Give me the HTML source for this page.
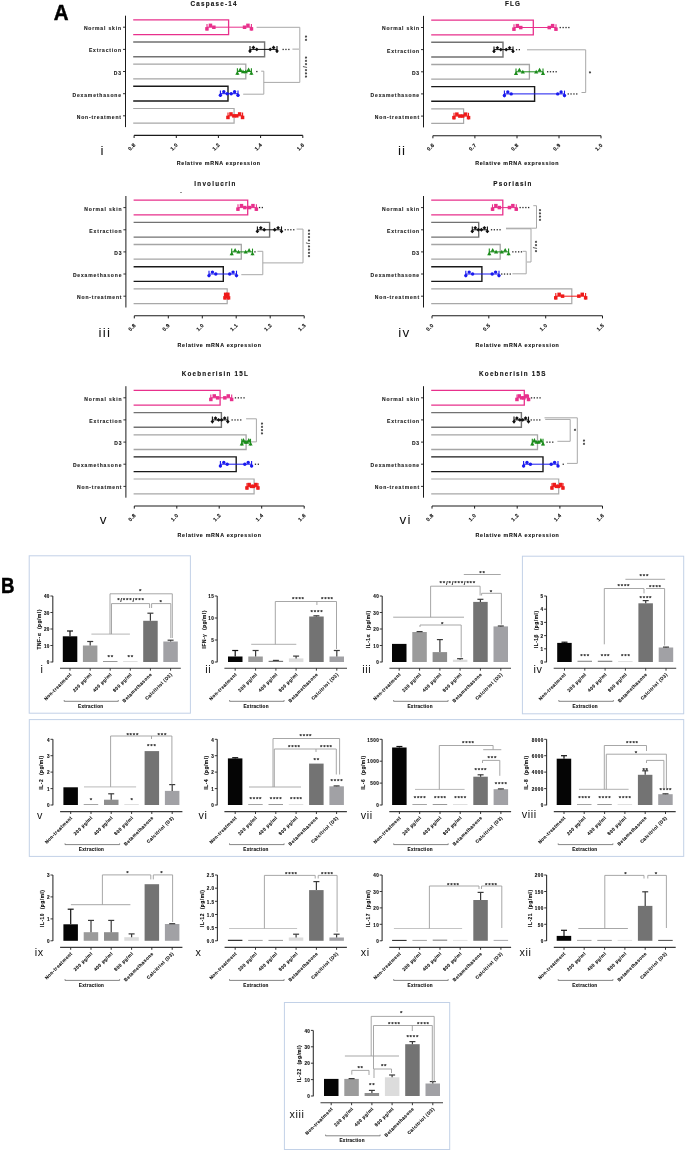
<!DOCTYPE html>
<html><head><meta charset="utf-8"><style>
html,body{margin:0;padding:0;background:#fff;}
body{width:685px;height:1151px;overflow:hidden;}
svg{display:block;will-change:transform;}
text{font-family:"Liberation Sans",sans-serif;}
</style></head><body>
<svg width="685" height="1151" viewBox="0 0 685 1151">
<rect x="0" y="0" width="685" height="1151" fill="#fff"/>
<text x="214.1" y="5.6" font-size="6.3" font-weight="bold" text-anchor="middle" letter-spacing="1.22" fill="#111" font-family="Liberation Sans" stroke="#111" stroke-width="0.12">Caspase-14</text>
<line x1="125.5" y1="15.7" x2="125.5" y2="127.1" stroke="#1a1a1a" stroke-width="1.0" />
<line x1="123.0" y1="27.2" x2="125.5" y2="27.2" stroke="#1a1a1a" stroke-width="0.9" />
<text x="121.9" y="30.1" font-size="5.0" font-weight="bold" text-anchor="end" letter-spacing="0.85" fill="#222" font-family="Liberation Sans" stroke="#222" stroke-width="0.12">Normal skin</text>
<polyline points="133.2,19.9 228.6,19.9 228.6,34.6 133.2,34.6" fill="none" stroke="#e8308c" stroke-width="1.3"/>
<line x1="123.0" y1="49.4" x2="125.5" y2="49.4" stroke="#1a1a1a" stroke-width="0.9" />
<text x="121.9" y="52.3" font-size="5.0" font-weight="bold" text-anchor="end" letter-spacing="0.85" fill="#222" font-family="Liberation Sans" stroke="#222" stroke-width="0.12">Extraction</text>
<polyline points="133.2,42.0 264.6,42.0 264.6,56.8 133.2,56.8" fill="none" stroke="#727272" stroke-width="1.4"/>
<line x1="123.0" y1="71.5" x2="125.5" y2="71.5" stroke="#1a1a1a" stroke-width="0.9" />
<text x="121.9" y="74.5" font-size="5.0" font-weight="bold" text-anchor="end" letter-spacing="0.85" fill="#222" font-family="Liberation Sans" stroke="#222" stroke-width="0.12">D3</text>
<polyline points="133.2,64.2 245.8,64.2 245.8,78.9 133.2,78.9" fill="none" stroke="#a5a5a5" stroke-width="1.3"/>
<line x1="123.0" y1="93.7" x2="125.5" y2="93.7" stroke="#1a1a1a" stroke-width="0.9" />
<text x="121.9" y="96.6" font-size="5.0" font-weight="bold" text-anchor="end" letter-spacing="0.85" fill="#222" font-family="Liberation Sans" stroke="#222" stroke-width="0.12">Dexamethasone</text>
<polyline points="133.2,86.3 228.0,86.3 228.0,101.0 133.2,101.0" fill="none" stroke="#1a1a1a" stroke-width="1.4"/>
<line x1="123.0" y1="115.8" x2="125.5" y2="115.8" stroke="#1a1a1a" stroke-width="0.9" />
<text x="121.9" y="118.8" font-size="5.0" font-weight="bold" text-anchor="end" letter-spacing="0.85" fill="#222" font-family="Liberation Sans" stroke="#222" stroke-width="0.12">Non-treatment</text>
<polyline points="133.2,108.5 234.1,108.5 234.1,123.2 133.2,123.2" fill="none" stroke="#a8a8a8" stroke-width="1.2"/>
<line x1="207.0" y1="27.2" x2="251.4" y2="27.2" stroke="#e8308c" stroke-width="1.0" />
<line x1="207.0" y1="23.9" x2="207.0" y2="30.6" stroke="#e8308c" stroke-width="1.1" />
<line x1="251.4" y1="23.9" x2="251.4" y2="30.6" stroke="#e8308c" stroke-width="1.1" />
<rect x="205.2" y="27.1" width="3.5" height="3.5" fill="#e8308c" stroke="none" stroke-width="1.0"/>
<rect x="208.7" y="23.6" width="3.5" height="3.5" fill="#e8308c" stroke="none" stroke-width="1.0"/>
<rect x="212.1" y="25.5" width="3.5" height="3.5" fill="#e8308c" stroke="none" stroke-width="1.0"/>
<rect x="242.8" y="25.5" width="3.5" height="3.5" fill="#e8308c" stroke="none" stroke-width="1.0"/>
<rect x="246.2" y="23.6" width="3.5" height="3.5" fill="#e8308c" stroke="none" stroke-width="1.0"/>
<rect x="249.7" y="27.1" width="3.5" height="3.5" fill="#e8308c" stroke="none" stroke-width="1.0"/>
<line x1="250.0" y1="49.4" x2="277.0" y2="49.4" stroke="#111" stroke-width="1.0" />
<line x1="250.0" y1="46.1" x2="250.0" y2="52.7" stroke="#111" stroke-width="1.1" />
<line x1="277.0" y1="46.1" x2="277.0" y2="52.7" stroke="#111" stroke-width="1.1" />
<polygon points="250.0,49.1 251.9,51.0 250.0,52.9 248.1,51.0" fill="#111"/>
<polygon points="253.4,45.6 255.3,47.5 253.4,49.4 251.5,47.5" fill="#111"/>
<polygon points="256.8,47.5 258.7,49.4 256.8,51.3 254.9,49.4" fill="#111"/>
<polygon points="270.2,47.5 272.1,49.4 270.2,51.3 268.3,49.4" fill="#111"/>
<polygon points="273.6,45.6 275.5,47.5 273.6,49.4 271.7,47.5" fill="#111"/>
<polygon points="277.0,49.1 278.9,51.0 277.0,52.9 275.1,51.0" fill="#111"/>
<line x1="237.4" y1="71.5" x2="251.4" y2="71.5" stroke="#1c8c1c" stroke-width="1.0" />
<line x1="237.4" y1="68.2" x2="237.4" y2="74.8" stroke="#1c8c1c" stroke-width="1.1" />
<line x1="251.4" y1="68.2" x2="251.4" y2="74.8" stroke="#1c8c1c" stroke-width="1.1" />
<polygon points="237.4,71.0 239.5,74.8 235.3,74.8" fill="#1c8c1c"/>
<polygon points="240.2,67.5 242.3,71.3 238.1,71.3" fill="#1c8c1c"/>
<polygon points="243.0,69.5 245.1,73.2 240.9,73.2" fill="#1c8c1c"/>
<polygon points="245.8,69.5 247.9,73.2 243.7,73.2" fill="#1c8c1c"/>
<polygon points="248.6,67.5 250.7,71.3 246.5,71.3" fill="#1c8c1c"/>
<polygon points="251.4,71.0 253.5,74.8 249.3,74.8" fill="#1c8c1c"/>
<line x1="220.4" y1="93.7" x2="238.0" y2="93.7" stroke="#1a1aee" stroke-width="1.0" />
<line x1="220.4" y1="90.4" x2="220.4" y2="97.0" stroke="#1a1aee" stroke-width="1.1" />
<line x1="238.0" y1="90.4" x2="238.0" y2="97.0" stroke="#1a1aee" stroke-width="1.1" />
<circle cx="220.4" cy="95.3" r="1.7" fill="#1a1aee"/>
<circle cx="223.8" cy="91.8" r="1.7" fill="#1a1aee"/>
<circle cx="227.2" cy="93.7" r="1.7" fill="#1a1aee"/>
<circle cx="231.2" cy="93.7" r="1.7" fill="#1a1aee"/>
<circle cx="234.6" cy="91.8" r="1.7" fill="#1a1aee"/>
<circle cx="238.0" cy="95.3" r="1.7" fill="#1a1aee"/>
<line x1="228.0" y1="115.8" x2="242.6" y2="115.8" stroke="#ee1a1a" stroke-width="1.0" />
<line x1="228.0" y1="112.5" x2="228.0" y2="119.1" stroke="#ee1a1a" stroke-width="1.1" />
<line x1="242.6" y1="112.5" x2="242.6" y2="119.1" stroke="#ee1a1a" stroke-width="1.1" />
<rect x="226.2" y="115.7" width="3.5" height="3.5" fill="#ee1a1a" stroke="none" stroke-width="1.0"/>
<rect x="229.2" y="112.2" width="3.5" height="3.5" fill="#ee1a1a" stroke="none" stroke-width="1.0"/>
<rect x="232.1" y="114.1" width="3.5" height="3.5" fill="#ee1a1a" stroke="none" stroke-width="1.0"/>
<rect x="235.0" y="114.1" width="3.5" height="3.5" fill="#ee1a1a" stroke="none" stroke-width="1.0"/>
<rect x="237.9" y="112.2" width="3.5" height="3.5" fill="#ee1a1a" stroke="none" stroke-width="1.0"/>
<rect x="240.8" y="115.7" width="3.5" height="3.5" fill="#ee1a1a" stroke="none" stroke-width="1.0"/>
<line x1="134.1" y1="135.4" x2="302.8" y2="135.4" stroke="#1a1a1a" stroke-width="1.1" />
<line x1="134.1" y1="135.4" x2="134.1" y2="138.0" stroke="#1a1a1a" stroke-width="1.0" />
<text x="136.1" y="145.2" font-size="5.3" font-weight="bold" text-anchor="end" letter-spacing="0.3" fill="#111" font-family="Liberation Sans" transform="rotate(-45 136.1 145.2)" stroke="#111" stroke-width="0.12">0.8</text>
<line x1="176.3" y1="135.4" x2="176.3" y2="138.0" stroke="#1a1a1a" stroke-width="1.0" />
<text x="178.3" y="145.2" font-size="5.3" font-weight="bold" text-anchor="end" letter-spacing="0.3" fill="#111" font-family="Liberation Sans" transform="rotate(-45 178.3 145.2)" stroke="#111" stroke-width="0.12">1.0</text>
<line x1="218.4" y1="135.4" x2="218.4" y2="138.0" stroke="#1a1a1a" stroke-width="1.0" />
<text x="220.4" y="145.2" font-size="5.3" font-weight="bold" text-anchor="end" letter-spacing="0.3" fill="#111" font-family="Liberation Sans" transform="rotate(-45 220.4 145.2)" stroke="#111" stroke-width="0.12">1.2</text>
<line x1="260.6" y1="135.4" x2="260.6" y2="138.0" stroke="#1a1a1a" stroke-width="1.0" />
<text x="262.6" y="145.2" font-size="5.3" font-weight="bold" text-anchor="end" letter-spacing="0.3" fill="#111" font-family="Liberation Sans" transform="rotate(-45 262.6 145.2)" stroke="#111" stroke-width="0.12">1.4</text>
<line x1="302.8" y1="135.4" x2="302.8" y2="138.0" stroke="#1a1a1a" stroke-width="1.0" />
<text x="304.8" y="145.2" font-size="5.3" font-weight="bold" text-anchor="end" letter-spacing="0.3" fill="#111" font-family="Liberation Sans" transform="rotate(-45 304.8 145.2)" stroke="#111" stroke-width="0.12">1.6</text>
<text x="218.8" y="165.1" font-size="5.3" font-weight="bold" text-anchor="middle" letter-spacing="0.7" fill="#111" font-family="Liberation Sans" stroke="#111" stroke-width="0.12">Relative mRNA expression</text>
<text x="102.6" y="155.1" font-size="13.5" font-weight="normal" text-anchor="middle" letter-spacing="1.2" fill="#111" font-family="Liberation Sans">i</text>
<text x="513.1" y="5.9" font-size="6.3" font-weight="bold" text-anchor="middle" letter-spacing="1.22" fill="#111" font-family="Liberation Sans" stroke="#111" stroke-width="0.12">FLG</text>
<line x1="423.5" y1="15.9" x2="423.5" y2="127.4" stroke="#1a1a1a" stroke-width="1.0" />
<line x1="421.0" y1="27.5" x2="423.5" y2="27.5" stroke="#1a1a1a" stroke-width="0.9" />
<text x="420.0" y="30.4" font-size="5.0" font-weight="bold" text-anchor="end" letter-spacing="0.85" fill="#222" font-family="Liberation Sans" stroke="#222" stroke-width="0.12">Normal skin</text>
<polyline points="431.2,20.1 533.3,20.1 533.3,34.9 431.2,34.9" fill="none" stroke="#e8308c" stroke-width="1.3"/>
<line x1="421.0" y1="49.6" x2="423.5" y2="49.6" stroke="#1a1a1a" stroke-width="0.9" />
<text x="420.0" y="52.5" font-size="5.0" font-weight="bold" text-anchor="end" letter-spacing="0.85" fill="#222" font-family="Liberation Sans" stroke="#222" stroke-width="0.12">Extraction</text>
<polyline points="431.2,42.3 503.0,42.3 503.0,57.0 431.2,57.0" fill="none" stroke="#727272" stroke-width="1.4"/>
<line x1="421.0" y1="71.8" x2="423.5" y2="71.8" stroke="#1a1a1a" stroke-width="0.9" />
<text x="420.0" y="74.7" font-size="5.0" font-weight="bold" text-anchor="end" letter-spacing="0.85" fill="#222" font-family="Liberation Sans" stroke="#222" stroke-width="0.12">D3</text>
<polyline points="431.2,64.5 529.4,64.5 529.4,79.1 431.2,79.1" fill="none" stroke="#a5a5a5" stroke-width="1.3"/>
<line x1="421.0" y1="93.9" x2="423.5" y2="93.9" stroke="#1a1a1a" stroke-width="0.9" />
<text x="420.0" y="96.8" font-size="5.0" font-weight="bold" text-anchor="end" letter-spacing="0.85" fill="#222" font-family="Liberation Sans" stroke="#222" stroke-width="0.12">Dexamethasone</text>
<polyline points="431.2,86.6 534.6,86.6 534.6,101.3 431.2,101.3" fill="none" stroke="#1a1a1a" stroke-width="1.4"/>
<line x1="421.0" y1="116.1" x2="423.5" y2="116.1" stroke="#1a1a1a" stroke-width="0.9" />
<text x="420.0" y="119.0" font-size="5.0" font-weight="bold" text-anchor="end" letter-spacing="0.85" fill="#222" font-family="Liberation Sans" stroke="#222" stroke-width="0.12">Non-treatment</text>
<polyline points="431.2,108.8 463.6,108.8 463.6,123.4 431.2,123.4" fill="none" stroke="#a8a8a8" stroke-width="1.2"/>
<line x1="514.0" y1="27.5" x2="556.0" y2="27.5" stroke="#e8308c" stroke-width="1.0" />
<line x1="514.0" y1="24.2" x2="514.0" y2="30.8" stroke="#e8308c" stroke-width="1.1" />
<line x1="556.0" y1="24.2" x2="556.0" y2="30.8" stroke="#e8308c" stroke-width="1.1" />
<rect x="512.2" y="27.4" width="3.5" height="3.5" fill="#e8308c" stroke="none" stroke-width="1.0"/>
<rect x="515.6" y="23.9" width="3.5" height="3.5" fill="#e8308c" stroke="none" stroke-width="1.0"/>
<rect x="519.0" y="25.8" width="3.5" height="3.5" fill="#e8308c" stroke="none" stroke-width="1.0"/>
<rect x="547.5" y="25.8" width="3.5" height="3.5" fill="#e8308c" stroke="none" stroke-width="1.0"/>
<rect x="550.9" y="23.9" width="3.5" height="3.5" fill="#e8308c" stroke="none" stroke-width="1.0"/>
<rect x="554.2" y="27.4" width="3.5" height="3.5" fill="#e8308c" stroke="none" stroke-width="1.0"/>
<line x1="494.0" y1="49.6" x2="513.0" y2="49.6" stroke="#111" stroke-width="1.0" />
<line x1="494.0" y1="46.4" x2="494.0" y2="52.9" stroke="#111" stroke-width="1.1" />
<line x1="513.0" y1="46.4" x2="513.0" y2="52.9" stroke="#111" stroke-width="1.1" />
<polygon points="494.0,49.4 495.9,51.2 494.0,53.1 492.1,51.2" fill="#111"/>
<polygon points="497.4,45.9 499.3,47.8 497.4,49.6 495.5,47.8" fill="#111"/>
<polygon points="500.8,47.8 502.7,49.6 500.8,51.5 498.9,49.6" fill="#111"/>
<polygon points="506.2,47.8 508.1,49.6 506.2,51.5 504.3,49.6" fill="#111"/>
<polygon points="509.6,45.9 511.5,47.8 509.6,49.6 507.7,47.8" fill="#111"/>
<polygon points="513.0,49.4 514.9,51.2 513.0,53.1 511.1,51.2" fill="#111"/>
<line x1="516.0" y1="71.8" x2="543.0" y2="71.8" stroke="#1c8c1c" stroke-width="1.0" />
<line x1="516.0" y1="68.5" x2="516.0" y2="75.1" stroke="#1c8c1c" stroke-width="1.1" />
<line x1="543.0" y1="68.5" x2="543.0" y2="75.1" stroke="#1c8c1c" stroke-width="1.1" />
<polygon points="516.0,71.3 518.1,75.1 513.9,75.1" fill="#1c8c1c"/>
<polygon points="519.4,67.8 521.5,71.6 517.3,71.6" fill="#1c8c1c"/>
<polygon points="522.8,69.7 524.9,73.5 520.7,73.5" fill="#1c8c1c"/>
<polygon points="536.2,69.7 538.3,73.5 534.1,73.5" fill="#1c8c1c"/>
<polygon points="539.6,67.8 541.7,71.6 537.5,71.6" fill="#1c8c1c"/>
<polygon points="543.0,71.3 545.1,75.1 540.9,75.1" fill="#1c8c1c"/>
<line x1="504.4" y1="93.9" x2="564.5" y2="93.9" stroke="#1a1aee" stroke-width="1.0" />
<line x1="504.4" y1="90.6" x2="504.4" y2="97.2" stroke="#1a1aee" stroke-width="1.1" />
<line x1="564.5" y1="90.6" x2="564.5" y2="97.2" stroke="#1a1aee" stroke-width="1.1" />
<circle cx="504.4" cy="95.5" r="1.7" fill="#1a1aee"/>
<circle cx="507.8" cy="92.0" r="1.7" fill="#1a1aee"/>
<circle cx="511.2" cy="93.9" r="1.7" fill="#1a1aee"/>
<circle cx="557.7" cy="93.9" r="1.7" fill="#1a1aee"/>
<circle cx="561.1" cy="92.0" r="1.7" fill="#1a1aee"/>
<circle cx="564.5" cy="95.5" r="1.7" fill="#1a1aee"/>
<line x1="454.0" y1="116.1" x2="468.5" y2="116.1" stroke="#ee1a1a" stroke-width="1.0" />
<line x1="454.0" y1="112.8" x2="454.0" y2="119.4" stroke="#ee1a1a" stroke-width="1.1" />
<line x1="468.5" y1="112.8" x2="468.5" y2="119.4" stroke="#ee1a1a" stroke-width="1.1" />
<rect x="452.2" y="115.9" width="3.5" height="3.5" fill="#ee1a1a" stroke="none" stroke-width="1.0"/>
<rect x="455.1" y="112.4" width="3.5" height="3.5" fill="#ee1a1a" stroke="none" stroke-width="1.0"/>
<rect x="458.1" y="114.3" width="3.5" height="3.5" fill="#ee1a1a" stroke="none" stroke-width="1.0"/>
<rect x="460.9" y="114.3" width="3.5" height="3.5" fill="#ee1a1a" stroke="none" stroke-width="1.0"/>
<rect x="463.9" y="112.4" width="3.5" height="3.5" fill="#ee1a1a" stroke="none" stroke-width="1.0"/>
<rect x="466.8" y="115.9" width="3.5" height="3.5" fill="#ee1a1a" stroke="none" stroke-width="1.0"/>
<line x1="432.9" y1="135.7" x2="601.0" y2="135.7" stroke="#1a1a1a" stroke-width="1.1" />
<line x1="432.9" y1="135.7" x2="432.9" y2="138.3" stroke="#1a1a1a" stroke-width="1.0" />
<text x="434.9" y="145.5" font-size="5.3" font-weight="bold" text-anchor="end" letter-spacing="0.3" fill="#111" font-family="Liberation Sans" transform="rotate(-45 434.9 145.5)" stroke="#111" stroke-width="0.12">0.6</text>
<line x1="474.9" y1="135.7" x2="474.9" y2="138.3" stroke="#1a1a1a" stroke-width="1.0" />
<text x="476.9" y="145.5" font-size="5.3" font-weight="bold" text-anchor="end" letter-spacing="0.3" fill="#111" font-family="Liberation Sans" transform="rotate(-45 476.9 145.5)" stroke="#111" stroke-width="0.12">0.7</text>
<line x1="517.0" y1="135.7" x2="517.0" y2="138.3" stroke="#1a1a1a" stroke-width="1.0" />
<text x="519.0" y="145.5" font-size="5.3" font-weight="bold" text-anchor="end" letter-spacing="0.3" fill="#111" font-family="Liberation Sans" transform="rotate(-45 519.0 145.5)" stroke="#111" stroke-width="0.12">0.8</text>
<line x1="559.0" y1="135.7" x2="559.0" y2="138.3" stroke="#1a1a1a" stroke-width="1.0" />
<text x="561.0" y="145.5" font-size="5.3" font-weight="bold" text-anchor="end" letter-spacing="0.3" fill="#111" font-family="Liberation Sans" transform="rotate(-45 561.0 145.5)" stroke="#111" stroke-width="0.12">0.9</text>
<line x1="601.0" y1="135.7" x2="601.0" y2="138.3" stroke="#1a1a1a" stroke-width="1.0" />
<text x="603.0" y="145.5" font-size="5.3" font-weight="bold" text-anchor="end" letter-spacing="0.3" fill="#111" font-family="Liberation Sans" transform="rotate(-45 603.0 145.5)" stroke="#111" stroke-width="0.12">1.0</text>
<text x="517.2" y="165.3" font-size="5.3" font-weight="bold" text-anchor="middle" letter-spacing="0.7" fill="#111" font-family="Liberation Sans" stroke="#111" stroke-width="0.12">Relative mRNA expression</text>
<text x="402.1" y="155.1" font-size="13.5" font-weight="normal" text-anchor="middle" letter-spacing="1.2" fill="#111" font-family="Liberation Sans">ii</text>
<text x="215.5" y="186.0" font-size="6.3" font-weight="bold" text-anchor="middle" letter-spacing="1.22" fill="#111" font-family="Liberation Sans" stroke="#111" stroke-width="0.12">Involucrin</text>
<line x1="125.9" y1="196.0" x2="125.9" y2="307.5" stroke="#1a1a1a" stroke-width="1.0" />
<line x1="123.4" y1="207.6" x2="125.9" y2="207.6" stroke="#1a1a1a" stroke-width="0.9" />
<text x="122.3" y="210.5" font-size="5.0" font-weight="bold" text-anchor="end" letter-spacing="0.85" fill="#222" font-family="Liberation Sans" stroke="#222" stroke-width="0.12">Normal skin</text>
<polyline points="133.6,200.2 247.7,200.2 247.7,214.9 133.6,214.9" fill="none" stroke="#e8308c" stroke-width="1.3"/>
<line x1="123.4" y1="229.8" x2="125.9" y2="229.8" stroke="#1a1a1a" stroke-width="0.9" />
<text x="122.3" y="232.7" font-size="5.0" font-weight="bold" text-anchor="end" letter-spacing="0.85" fill="#222" font-family="Liberation Sans" stroke="#222" stroke-width="0.12">Extraction</text>
<polyline points="133.6,222.4 269.6,222.4 269.6,237.1 133.6,237.1" fill="none" stroke="#727272" stroke-width="1.4"/>
<line x1="123.4" y1="251.9" x2="125.9" y2="251.9" stroke="#1a1a1a" stroke-width="0.9" />
<text x="122.3" y="254.8" font-size="5.0" font-weight="bold" text-anchor="end" letter-spacing="0.85" fill="#222" font-family="Liberation Sans" stroke="#222" stroke-width="0.12">D3</text>
<polyline points="133.6,244.5 241.3,244.5 241.3,259.2 133.6,259.2" fill="none" stroke="#a5a5a5" stroke-width="1.3"/>
<line x1="123.4" y1="274.0" x2="125.9" y2="274.0" stroke="#1a1a1a" stroke-width="0.9" />
<text x="122.3" y="276.9" font-size="5.0" font-weight="bold" text-anchor="end" letter-spacing="0.85" fill="#222" font-family="Liberation Sans" stroke="#222" stroke-width="0.12">Dexamethasone</text>
<polyline points="133.6,266.7 223.3,266.7 223.3,281.4 133.6,281.4" fill="none" stroke="#1a1a1a" stroke-width="1.4"/>
<line x1="123.4" y1="296.2" x2="125.9" y2="296.2" stroke="#1a1a1a" stroke-width="0.9" />
<text x="122.3" y="299.1" font-size="5.0" font-weight="bold" text-anchor="end" letter-spacing="0.85" fill="#222" font-family="Liberation Sans" stroke="#222" stroke-width="0.12">Non-treatment</text>
<polyline points="133.6,288.8 227.2,288.8 227.2,303.6 133.6,303.6" fill="none" stroke="#a8a8a8" stroke-width="1.2"/>
<line x1="238.0" y1="207.6" x2="256.4" y2="207.6" stroke="#e8308c" stroke-width="1.0" />
<line x1="238.0" y1="204.3" x2="238.0" y2="210.9" stroke="#e8308c" stroke-width="1.1" />
<line x1="256.4" y1="204.3" x2="256.4" y2="210.9" stroke="#e8308c" stroke-width="1.1" />
<rect x="236.2" y="207.4" width="3.5" height="3.5" fill="#e8308c" stroke="none" stroke-width="1.0"/>
<rect x="239.7" y="203.9" width="3.5" height="3.5" fill="#e8308c" stroke="none" stroke-width="1.0"/>
<rect x="243.1" y="205.8" width="3.5" height="3.5" fill="#e8308c" stroke="none" stroke-width="1.0"/>
<rect x="247.8" y="205.8" width="3.5" height="3.5" fill="#e8308c" stroke="none" stroke-width="1.0"/>
<rect x="251.2" y="203.9" width="3.5" height="3.5" fill="#e8308c" stroke="none" stroke-width="1.0"/>
<rect x="254.6" y="207.4" width="3.5" height="3.5" fill="#e8308c" stroke="none" stroke-width="1.0"/>
<line x1="257.4" y1="229.8" x2="281.5" y2="229.8" stroke="#111" stroke-width="1.0" />
<line x1="257.4" y1="226.4" x2="257.4" y2="233.1" stroke="#111" stroke-width="1.1" />
<line x1="281.5" y1="226.4" x2="281.5" y2="233.1" stroke="#111" stroke-width="1.1" />
<polygon points="257.4,229.4 259.3,231.3 257.4,233.2 255.5,231.3" fill="#111"/>
<polygon points="260.8,225.9 262.7,227.8 260.8,229.8 258.9,227.8" fill="#111"/>
<polygon points="264.2,227.8 266.1,229.8 264.2,231.7 262.3,229.8" fill="#111"/>
<polygon points="274.7,227.8 276.6,229.8 274.7,231.7 272.8,229.8" fill="#111"/>
<polygon points="278.1,225.9 280.0,227.8 278.1,229.8 276.2,227.8" fill="#111"/>
<polygon points="281.5,229.4 283.4,231.3 281.5,233.2 279.6,231.3" fill="#111"/>
<line x1="231.7" y1="251.9" x2="252.5" y2="251.9" stroke="#1c8c1c" stroke-width="1.0" />
<line x1="231.7" y1="248.6" x2="231.7" y2="255.2" stroke="#1c8c1c" stroke-width="1.1" />
<line x1="252.5" y1="248.6" x2="252.5" y2="255.2" stroke="#1c8c1c" stroke-width="1.1" />
<polygon points="231.7,251.4 233.8,255.2 229.6,255.2" fill="#1c8c1c"/>
<polygon points="235.1,247.9 237.2,251.7 233.0,251.7" fill="#1c8c1c"/>
<polygon points="238.5,249.8 240.6,253.6 236.4,253.6" fill="#1c8c1c"/>
<polygon points="245.7,249.8 247.8,253.6 243.6,253.6" fill="#1c8c1c"/>
<polygon points="249.1,247.9 251.2,251.7 247.0,251.7" fill="#1c8c1c"/>
<polygon points="252.5,251.4 254.6,255.2 250.4,255.2" fill="#1c8c1c"/>
<line x1="209.0" y1="274.0" x2="236.5" y2="274.0" stroke="#1a1aee" stroke-width="1.0" />
<line x1="209.0" y1="270.7" x2="209.0" y2="277.3" stroke="#1a1aee" stroke-width="1.1" />
<line x1="236.5" y1="270.7" x2="236.5" y2="277.3" stroke="#1a1aee" stroke-width="1.1" />
<circle cx="209.0" cy="275.6" r="1.7" fill="#1a1aee"/>
<circle cx="212.4" cy="272.1" r="1.7" fill="#1a1aee"/>
<circle cx="215.8" cy="274.0" r="1.7" fill="#1a1aee"/>
<circle cx="229.7" cy="274.0" r="1.7" fill="#1a1aee"/>
<circle cx="233.1" cy="272.1" r="1.7" fill="#1a1aee"/>
<circle cx="236.5" cy="275.6" r="1.7" fill="#1a1aee"/>
<line x1="225.0" y1="296.2" x2="228.5" y2="296.2" stroke="#ee1a1a" stroke-width="1.0" />
<line x1="225.0" y1="292.9" x2="225.0" y2="299.5" stroke="#ee1a1a" stroke-width="1.1" />
<line x1="228.5" y1="292.9" x2="228.5" y2="299.5" stroke="#ee1a1a" stroke-width="1.1" />
<rect x="223.2" y="296.1" width="3.5" height="3.5" fill="#ee1a1a" stroke="none" stroke-width="1.0"/>
<rect x="223.9" y="292.6" width="3.5" height="3.5" fill="#ee1a1a" stroke="none" stroke-width="1.0"/>
<rect x="224.7" y="294.4" width="3.5" height="3.5" fill="#ee1a1a" stroke="none" stroke-width="1.0"/>
<rect x="225.3" y="294.4" width="3.5" height="3.5" fill="#ee1a1a" stroke="none" stroke-width="1.0"/>
<rect x="226.1" y="292.6" width="3.5" height="3.5" fill="#ee1a1a" stroke="none" stroke-width="1.0"/>
<rect x="226.8" y="296.1" width="3.5" height="3.5" fill="#ee1a1a" stroke="none" stroke-width="1.0"/>
<line x1="134.3" y1="315.8" x2="304.2" y2="315.8" stroke="#1a1a1a" stroke-width="1.1" />
<line x1="134.3" y1="315.8" x2="134.3" y2="318.4" stroke="#1a1a1a" stroke-width="1.0" />
<text x="136.3" y="325.6" font-size="5.3" font-weight="bold" text-anchor="end" letter-spacing="0.3" fill="#111" font-family="Liberation Sans" transform="rotate(-45 136.3 325.6)" stroke="#111" stroke-width="0.12">0.8</text>
<line x1="168.3" y1="315.8" x2="168.3" y2="318.4" stroke="#1a1a1a" stroke-width="1.0" />
<text x="170.3" y="325.6" font-size="5.3" font-weight="bold" text-anchor="end" letter-spacing="0.3" fill="#111" font-family="Liberation Sans" transform="rotate(-45 170.3 325.6)" stroke="#111" stroke-width="0.12">0.9</text>
<line x1="202.3" y1="315.8" x2="202.3" y2="318.4" stroke="#1a1a1a" stroke-width="1.0" />
<text x="204.3" y="325.6" font-size="5.3" font-weight="bold" text-anchor="end" letter-spacing="0.3" fill="#111" font-family="Liberation Sans" transform="rotate(-45 204.3 325.6)" stroke="#111" stroke-width="0.12">1.0</text>
<line x1="236.2" y1="315.8" x2="236.2" y2="318.4" stroke="#1a1a1a" stroke-width="1.0" />
<text x="238.2" y="325.6" font-size="5.3" font-weight="bold" text-anchor="end" letter-spacing="0.3" fill="#111" font-family="Liberation Sans" transform="rotate(-45 238.2 325.6)" stroke="#111" stroke-width="0.12">1.1</text>
<line x1="270.2" y1="315.8" x2="270.2" y2="318.4" stroke="#1a1a1a" stroke-width="1.0" />
<text x="272.2" y="325.6" font-size="5.3" font-weight="bold" text-anchor="end" letter-spacing="0.3" fill="#111" font-family="Liberation Sans" transform="rotate(-45 272.2 325.6)" stroke="#111" stroke-width="0.12">1.2</text>
<line x1="304.2" y1="315.8" x2="304.2" y2="318.4" stroke="#1a1a1a" stroke-width="1.0" />
<text x="306.2" y="325.6" font-size="5.3" font-weight="bold" text-anchor="end" letter-spacing="0.3" fill="#111" font-family="Liberation Sans" transform="rotate(-45 306.2 325.6)" stroke="#111" stroke-width="0.12">1.3</text>
<text x="219.6" y="346.5" font-size="5.3" font-weight="bold" text-anchor="middle" letter-spacing="0.7" fill="#111" font-family="Liberation Sans" stroke="#111" stroke-width="0.12">Relative mRNA expression</text>
<text x="104.9" y="336.9" font-size="13.5" font-weight="normal" text-anchor="middle" letter-spacing="1.2" fill="#111" font-family="Liberation Sans">iii</text>
<text x="513.0" y="186.0" font-size="6.3" font-weight="bold" text-anchor="middle" letter-spacing="1.22" fill="#111" font-family="Liberation Sans" stroke="#111" stroke-width="0.12">Psoriasin</text>
<line x1="423.5" y1="196.0" x2="423.5" y2="307.5" stroke="#1a1a1a" stroke-width="1.0" />
<line x1="421.0" y1="207.6" x2="423.5" y2="207.6" stroke="#1a1a1a" stroke-width="0.9" />
<text x="420.0" y="210.5" font-size="5.0" font-weight="bold" text-anchor="end" letter-spacing="0.85" fill="#222" font-family="Liberation Sans" stroke="#222" stroke-width="0.12">Normal skin</text>
<polyline points="431.2,200.2 502.8,200.2 502.8,214.9 431.2,214.9" fill="none" stroke="#e8308c" stroke-width="1.3"/>
<line x1="421.0" y1="229.8" x2="423.5" y2="229.8" stroke="#1a1a1a" stroke-width="0.9" />
<text x="420.0" y="232.7" font-size="5.0" font-weight="bold" text-anchor="end" letter-spacing="0.85" fill="#222" font-family="Liberation Sans" stroke="#222" stroke-width="0.12">Extraction</text>
<polyline points="431.2,222.4 478.7,222.4 478.7,237.1 431.2,237.1" fill="none" stroke="#727272" stroke-width="1.4"/>
<line x1="421.0" y1="251.9" x2="423.5" y2="251.9" stroke="#1a1a1a" stroke-width="0.9" />
<text x="420.0" y="254.8" font-size="5.0" font-weight="bold" text-anchor="end" letter-spacing="0.85" fill="#222" font-family="Liberation Sans" stroke="#222" stroke-width="0.12">D3</text>
<polyline points="431.2,244.5 500.2,244.5 500.2,259.2 431.2,259.2" fill="none" stroke="#a5a5a5" stroke-width="1.3"/>
<line x1="421.0" y1="274.0" x2="423.5" y2="274.0" stroke="#1a1a1a" stroke-width="0.9" />
<text x="420.0" y="276.9" font-size="5.0" font-weight="bold" text-anchor="end" letter-spacing="0.85" fill="#222" font-family="Liberation Sans" stroke="#222" stroke-width="0.12">Dexamethasone</text>
<polyline points="431.2,266.7 481.9,266.7 481.9,281.4 431.2,281.4" fill="none" stroke="#1a1a1a" stroke-width="1.4"/>
<line x1="421.0" y1="296.2" x2="423.5" y2="296.2" stroke="#1a1a1a" stroke-width="0.9" />
<text x="420.0" y="299.1" font-size="5.0" font-weight="bold" text-anchor="end" letter-spacing="0.85" fill="#222" font-family="Liberation Sans" stroke="#222" stroke-width="0.12">Non-treatment</text>
<polyline points="431.2,288.8 571.8,288.8 571.8,303.6 431.2,303.6" fill="none" stroke="#a8a8a8" stroke-width="1.2"/>
<line x1="492.5" y1="207.6" x2="516.3" y2="207.6" stroke="#e8308c" stroke-width="1.0" />
<line x1="492.5" y1="204.3" x2="492.5" y2="210.9" stroke="#e8308c" stroke-width="1.1" />
<line x1="516.3" y1="204.3" x2="516.3" y2="210.9" stroke="#e8308c" stroke-width="1.1" />
<rect x="490.8" y="207.4" width="3.5" height="3.5" fill="#e8308c" stroke="none" stroke-width="1.0"/>
<rect x="494.1" y="203.9" width="3.5" height="3.5" fill="#e8308c" stroke="none" stroke-width="1.0"/>
<rect x="497.6" y="205.8" width="3.5" height="3.5" fill="#e8308c" stroke="none" stroke-width="1.0"/>
<rect x="507.7" y="205.8" width="3.5" height="3.5" fill="#e8308c" stroke="none" stroke-width="1.0"/>
<rect x="511.1" y="203.9" width="3.5" height="3.5" fill="#e8308c" stroke="none" stroke-width="1.0"/>
<rect x="514.5" y="207.4" width="3.5" height="3.5" fill="#e8308c" stroke="none" stroke-width="1.0"/>
<line x1="472.3" y1="229.8" x2="487.4" y2="229.8" stroke="#111" stroke-width="1.0" />
<line x1="472.3" y1="226.4" x2="472.3" y2="233.1" stroke="#111" stroke-width="1.1" />
<line x1="487.4" y1="226.4" x2="487.4" y2="233.1" stroke="#111" stroke-width="1.1" />
<polygon points="472.3,229.4 474.2,231.3 472.3,233.2 470.4,231.3" fill="#111"/>
<polygon points="475.3,225.9 477.2,227.8 475.3,229.8 473.4,227.8" fill="#111"/>
<polygon points="478.3,227.8 480.2,229.8 478.3,231.7 476.4,229.8" fill="#111"/>
<polygon points="481.4,227.8 483.3,229.8 481.4,231.7 479.5,229.8" fill="#111"/>
<polygon points="484.4,225.9 486.3,227.8 484.4,229.8 482.5,227.8" fill="#111"/>
<polygon points="487.4,229.4 489.3,231.3 487.4,233.2 485.5,231.3" fill="#111"/>
<line x1="489.3" y1="251.9" x2="508.6" y2="251.9" stroke="#1c8c1c" stroke-width="1.0" />
<line x1="489.3" y1="248.6" x2="489.3" y2="255.2" stroke="#1c8c1c" stroke-width="1.1" />
<line x1="508.6" y1="248.6" x2="508.6" y2="255.2" stroke="#1c8c1c" stroke-width="1.1" />
<polygon points="489.3,251.4 491.4,255.2 487.2,255.2" fill="#1c8c1c"/>
<polygon points="492.7,247.9 494.8,251.7 490.6,251.7" fill="#1c8c1c"/>
<polygon points="496.1,249.8 498.2,253.6 494.0,253.6" fill="#1c8c1c"/>
<polygon points="501.8,249.8 503.9,253.6 499.7,253.6" fill="#1c8c1c"/>
<polygon points="505.2,247.9 507.3,251.7 503.1,251.7" fill="#1c8c1c"/>
<polygon points="508.6,251.4 510.7,255.2 506.5,255.2" fill="#1c8c1c"/>
<line x1="465.8" y1="274.0" x2="499.0" y2="274.0" stroke="#1a1aee" stroke-width="1.0" />
<line x1="465.8" y1="270.7" x2="465.8" y2="277.3" stroke="#1a1aee" stroke-width="1.1" />
<line x1="499.0" y1="270.7" x2="499.0" y2="277.3" stroke="#1a1aee" stroke-width="1.1" />
<circle cx="465.8" cy="275.6" r="1.7" fill="#1a1aee"/>
<circle cx="469.2" cy="272.1" r="1.7" fill="#1a1aee"/>
<circle cx="472.6" cy="274.0" r="1.7" fill="#1a1aee"/>
<circle cx="492.2" cy="274.0" r="1.7" fill="#1a1aee"/>
<circle cx="495.6" cy="272.1" r="1.7" fill="#1a1aee"/>
<circle cx="499.0" cy="275.6" r="1.7" fill="#1a1aee"/>
<line x1="555.8" y1="296.2" x2="585.6" y2="296.2" stroke="#ee1a1a" stroke-width="1.0" />
<line x1="555.8" y1="292.9" x2="555.8" y2="299.5" stroke="#ee1a1a" stroke-width="1.1" />
<line x1="585.6" y1="292.9" x2="585.6" y2="299.5" stroke="#ee1a1a" stroke-width="1.1" />
<rect x="554.0" y="296.1" width="3.5" height="3.5" fill="#ee1a1a" stroke="none" stroke-width="1.0"/>
<rect x="557.4" y="292.6" width="3.5" height="3.5" fill="#ee1a1a" stroke="none" stroke-width="1.0"/>
<rect x="560.8" y="294.4" width="3.5" height="3.5" fill="#ee1a1a" stroke="none" stroke-width="1.0"/>
<rect x="577.1" y="294.4" width="3.5" height="3.5" fill="#ee1a1a" stroke="none" stroke-width="1.0"/>
<rect x="580.5" y="292.6" width="3.5" height="3.5" fill="#ee1a1a" stroke="none" stroke-width="1.0"/>
<rect x="583.9" y="296.1" width="3.5" height="3.5" fill="#ee1a1a" stroke="none" stroke-width="1.0"/>
<line x1="432.0" y1="315.8" x2="602.5" y2="315.8" stroke="#1a1a1a" stroke-width="1.1" />
<line x1="432.0" y1="315.8" x2="432.0" y2="318.4" stroke="#1a1a1a" stroke-width="1.0" />
<text x="434.0" y="325.6" font-size="5.3" font-weight="bold" text-anchor="end" letter-spacing="0.3" fill="#111" font-family="Liberation Sans" transform="rotate(-45 434.0 325.6)" stroke="#111" stroke-width="0.12">0.0</text>
<line x1="488.8" y1="315.8" x2="488.8" y2="318.4" stroke="#1a1a1a" stroke-width="1.0" />
<text x="490.8" y="325.6" font-size="5.3" font-weight="bold" text-anchor="end" letter-spacing="0.3" fill="#111" font-family="Liberation Sans" transform="rotate(-45 490.8 325.6)" stroke="#111" stroke-width="0.12">0.5</text>
<line x1="545.7" y1="315.8" x2="545.7" y2="318.4" stroke="#1a1a1a" stroke-width="1.0" />
<text x="547.7" y="325.6" font-size="5.3" font-weight="bold" text-anchor="end" letter-spacing="0.3" fill="#111" font-family="Liberation Sans" transform="rotate(-45 547.7 325.6)" stroke="#111" stroke-width="0.12">1.0</text>
<line x1="602.5" y1="315.8" x2="602.5" y2="318.4" stroke="#1a1a1a" stroke-width="1.0" />
<text x="604.5" y="325.6" font-size="5.3" font-weight="bold" text-anchor="end" letter-spacing="0.3" fill="#111" font-family="Liberation Sans" transform="rotate(-45 604.5 325.6)" stroke="#111" stroke-width="0.12">1.5</text>
<text x="517.5" y="346.5" font-size="5.3" font-weight="bold" text-anchor="middle" letter-spacing="0.7" fill="#111" font-family="Liberation Sans" stroke="#111" stroke-width="0.12">Relative mRNA expression</text>
<text x="404.4" y="337.2" font-size="13.5" font-weight="normal" text-anchor="middle" letter-spacing="1.2" fill="#111" font-family="Liberation Sans">iv</text>
<text x="215.4" y="376.2" font-size="6.3" font-weight="bold" text-anchor="middle" letter-spacing="1.22" fill="#111" font-family="Liberation Sans" stroke="#111" stroke-width="0.12">Koebnerisin 15L</text>
<line x1="125.9" y1="386.2" x2="125.9" y2="497.7" stroke="#1a1a1a" stroke-width="1.0" />
<line x1="123.4" y1="397.8" x2="125.9" y2="397.8" stroke="#1a1a1a" stroke-width="0.9" />
<text x="122.3" y="400.7" font-size="5.0" font-weight="bold" text-anchor="end" letter-spacing="0.85" fill="#222" font-family="Liberation Sans" stroke="#222" stroke-width="0.12">Normal skin</text>
<polyline points="133.6,390.4 220.1,390.4 220.1,405.2 133.6,405.2" fill="none" stroke="#e8308c" stroke-width="1.3"/>
<line x1="123.4" y1="419.9" x2="125.9" y2="419.9" stroke="#1a1a1a" stroke-width="0.9" />
<text x="122.3" y="422.8" font-size="5.0" font-weight="bold" text-anchor="end" letter-spacing="0.85" fill="#222" font-family="Liberation Sans" stroke="#222" stroke-width="0.12">Extraction</text>
<polyline points="133.6,412.6 221.4,412.6 221.4,427.3 133.6,427.3" fill="none" stroke="#727272" stroke-width="1.4"/>
<line x1="123.4" y1="442.1" x2="125.9" y2="442.1" stroke="#1a1a1a" stroke-width="0.9" />
<text x="122.3" y="445.0" font-size="5.0" font-weight="bold" text-anchor="end" letter-spacing="0.85" fill="#222" font-family="Liberation Sans" stroke="#222" stroke-width="0.12">D3</text>
<polyline points="133.6,434.8 246.1,434.8 246.1,449.5 133.6,449.5" fill="none" stroke="#a5a5a5" stroke-width="1.3"/>
<line x1="123.4" y1="464.2" x2="125.9" y2="464.2" stroke="#1a1a1a" stroke-width="0.9" />
<text x="122.3" y="467.1" font-size="5.0" font-weight="bold" text-anchor="end" letter-spacing="0.85" fill="#222" font-family="Liberation Sans" stroke="#222" stroke-width="0.12">Dexamethasone</text>
<polyline points="133.6,456.9 236.2,456.9 236.2,471.6 133.6,471.6" fill="none" stroke="#1a1a1a" stroke-width="1.4"/>
<line x1="123.4" y1="486.4" x2="125.9" y2="486.4" stroke="#1a1a1a" stroke-width="0.9" />
<text x="122.3" y="489.3" font-size="5.0" font-weight="bold" text-anchor="end" letter-spacing="0.85" fill="#222" font-family="Liberation Sans" stroke="#222" stroke-width="0.12">Non-treatment</text>
<polyline points="133.6,479.0 254.1,479.0 254.1,493.8 133.6,493.8" fill="none" stroke="#a8a8a8" stroke-width="1.2"/>
<line x1="210.8" y1="397.8" x2="231.7" y2="397.8" stroke="#e8308c" stroke-width="1.0" />
<line x1="210.8" y1="394.5" x2="210.8" y2="401.1" stroke="#e8308c" stroke-width="1.1" />
<line x1="231.7" y1="394.5" x2="231.7" y2="401.1" stroke="#e8308c" stroke-width="1.1" />
<rect x="209.1" y="397.7" width="3.5" height="3.5" fill="#e8308c" stroke="none" stroke-width="1.0"/>
<rect x="212.5" y="394.2" width="3.5" height="3.5" fill="#e8308c" stroke="none" stroke-width="1.0"/>
<rect x="215.9" y="396.1" width="3.5" height="3.5" fill="#e8308c" stroke="none" stroke-width="1.0"/>
<rect x="223.1" y="396.1" width="3.5" height="3.5" fill="#e8308c" stroke="none" stroke-width="1.0"/>
<rect x="226.5" y="394.2" width="3.5" height="3.5" fill="#e8308c" stroke="none" stroke-width="1.0"/>
<rect x="229.9" y="397.7" width="3.5" height="3.5" fill="#e8308c" stroke="none" stroke-width="1.0"/>
<line x1="212.4" y1="419.9" x2="227.8" y2="419.9" stroke="#111" stroke-width="1.0" />
<line x1="212.4" y1="416.6" x2="212.4" y2="423.2" stroke="#111" stroke-width="1.1" />
<line x1="227.8" y1="416.6" x2="227.8" y2="423.2" stroke="#111" stroke-width="1.1" />
<polygon points="212.4,419.7 214.3,421.6 212.4,423.4 210.5,421.6" fill="#111"/>
<polygon points="215.5,416.2 217.4,418.1 215.5,419.9 213.6,418.1" fill="#111"/>
<polygon points="218.6,418.1 220.5,419.9 218.6,421.8 216.7,419.9" fill="#111"/>
<polygon points="221.6,418.1 223.5,419.9 221.6,421.8 219.7,419.9" fill="#111"/>
<polygon points="224.7,416.2 226.6,418.1 224.7,419.9 222.8,418.1" fill="#111"/>
<polygon points="227.8,419.7 229.7,421.6 227.8,423.4 225.9,421.6" fill="#111"/>
<line x1="241.8" y1="442.1" x2="250.5" y2="442.1" stroke="#1c8c1c" stroke-width="1.0" />
<line x1="241.8" y1="438.8" x2="241.8" y2="445.4" stroke="#1c8c1c" stroke-width="1.1" />
<line x1="250.5" y1="438.8" x2="250.5" y2="445.4" stroke="#1c8c1c" stroke-width="1.1" />
<polygon points="241.8,441.6 243.9,445.4 239.7,445.4" fill="#1c8c1c"/>
<polygon points="243.5,438.1 245.6,441.9 241.4,441.9" fill="#1c8c1c"/>
<polygon points="245.3,440.0 247.4,443.8 243.2,443.8" fill="#1c8c1c"/>
<polygon points="247.0,440.0 249.1,443.8 244.9,443.8" fill="#1c8c1c"/>
<polygon points="248.8,438.1 250.9,441.9 246.7,441.9" fill="#1c8c1c"/>
<polygon points="250.5,441.6 252.6,445.4 248.4,445.4" fill="#1c8c1c"/>
<line x1="220.4" y1="464.2" x2="251.6" y2="464.2" stroke="#1a1aee" stroke-width="1.0" />
<line x1="220.4" y1="460.9" x2="220.4" y2="467.6" stroke="#1a1aee" stroke-width="1.1" />
<line x1="251.6" y1="460.9" x2="251.6" y2="467.6" stroke="#1a1aee" stroke-width="1.1" />
<circle cx="220.4" cy="465.9" r="1.7" fill="#1a1aee"/>
<circle cx="223.8" cy="462.4" r="1.7" fill="#1a1aee"/>
<circle cx="227.2" cy="464.2" r="1.7" fill="#1a1aee"/>
<circle cx="244.8" cy="464.2" r="1.7" fill="#1a1aee"/>
<circle cx="248.2" cy="462.4" r="1.7" fill="#1a1aee"/>
<circle cx="251.6" cy="465.9" r="1.7" fill="#1a1aee"/>
<line x1="247.0" y1="486.4" x2="258.0" y2="486.4" stroke="#ee1a1a" stroke-width="1.0" />
<line x1="247.0" y1="483.1" x2="247.0" y2="489.7" stroke="#ee1a1a" stroke-width="1.1" />
<line x1="258.0" y1="483.1" x2="258.0" y2="489.7" stroke="#ee1a1a" stroke-width="1.1" />
<rect x="245.2" y="486.2" width="3.5" height="3.5" fill="#ee1a1a" stroke="none" stroke-width="1.0"/>
<rect x="247.4" y="482.8" width="3.5" height="3.5" fill="#ee1a1a" stroke="none" stroke-width="1.0"/>
<rect x="249.7" y="484.6" width="3.5" height="3.5" fill="#ee1a1a" stroke="none" stroke-width="1.0"/>
<rect x="251.8" y="484.6" width="3.5" height="3.5" fill="#ee1a1a" stroke="none" stroke-width="1.0"/>
<rect x="254.1" y="482.8" width="3.5" height="3.5" fill="#ee1a1a" stroke="none" stroke-width="1.0"/>
<rect x="256.2" y="486.2" width="3.5" height="3.5" fill="#ee1a1a" stroke="none" stroke-width="1.0"/>
<line x1="134.3" y1="506.0" x2="304.2" y2="506.0" stroke="#1a1a1a" stroke-width="1.1" />
<line x1="134.3" y1="506.0" x2="134.3" y2="508.6" stroke="#1a1a1a" stroke-width="1.0" />
<text x="136.3" y="515.8" font-size="5.3" font-weight="bold" text-anchor="end" letter-spacing="0.3" fill="#111" font-family="Liberation Sans" transform="rotate(-45 136.3 515.8)" stroke="#111" stroke-width="0.12">0.8</text>
<line x1="176.8" y1="506.0" x2="176.8" y2="508.6" stroke="#1a1a1a" stroke-width="1.0" />
<text x="178.8" y="515.8" font-size="5.3" font-weight="bold" text-anchor="end" letter-spacing="0.3" fill="#111" font-family="Liberation Sans" transform="rotate(-45 178.8 515.8)" stroke="#111" stroke-width="0.12">1.0</text>
<line x1="219.2" y1="506.0" x2="219.2" y2="508.6" stroke="#1a1a1a" stroke-width="1.0" />
<text x="221.2" y="515.8" font-size="5.3" font-weight="bold" text-anchor="end" letter-spacing="0.3" fill="#111" font-family="Liberation Sans" transform="rotate(-45 221.2 515.8)" stroke="#111" stroke-width="0.12">1.2</text>
<line x1="261.7" y1="506.0" x2="261.7" y2="508.6" stroke="#1a1a1a" stroke-width="1.0" />
<text x="263.7" y="515.8" font-size="5.3" font-weight="bold" text-anchor="end" letter-spacing="0.3" fill="#111" font-family="Liberation Sans" transform="rotate(-45 263.7 515.8)" stroke="#111" stroke-width="0.12">1.4</text>
<line x1="304.2" y1="506.0" x2="304.2" y2="508.6" stroke="#1a1a1a" stroke-width="1.0" />
<text x="306.2" y="515.8" font-size="5.3" font-weight="bold" text-anchor="end" letter-spacing="0.3" fill="#111" font-family="Liberation Sans" transform="rotate(-45 306.2 515.8)" stroke="#111" stroke-width="0.12">1.6</text>
<text x="219.6" y="536.7" font-size="5.3" font-weight="bold" text-anchor="middle" letter-spacing="0.7" fill="#111" font-family="Liberation Sans" stroke="#111" stroke-width="0.12">Relative mRNA expression</text>
<text x="103.8" y="523.7" font-size="13.5" font-weight="normal" text-anchor="middle" letter-spacing="1.2" fill="#111" font-family="Liberation Sans">v</text>
<text x="512.9" y="376.2" font-size="6.3" font-weight="bold" text-anchor="middle" letter-spacing="1.22" fill="#111" font-family="Liberation Sans" stroke="#111" stroke-width="0.12">Koebnerisin 15S</text>
<line x1="423.5" y1="386.2" x2="423.5" y2="497.7" stroke="#1a1a1a" stroke-width="1.0" />
<line x1="421.0" y1="397.8" x2="423.5" y2="397.8" stroke="#1a1a1a" stroke-width="0.9" />
<text x="420.0" y="400.7" font-size="5.0" font-weight="bold" text-anchor="end" letter-spacing="0.85" fill="#222" font-family="Liberation Sans" stroke="#222" stroke-width="0.12">Normal skin</text>
<polyline points="431.2,390.4 524.3,390.4 524.3,405.2 431.2,405.2" fill="none" stroke="#e8308c" stroke-width="1.3"/>
<line x1="421.0" y1="419.9" x2="423.5" y2="419.9" stroke="#1a1a1a" stroke-width="0.9" />
<text x="420.0" y="422.8" font-size="5.0" font-weight="bold" text-anchor="end" letter-spacing="0.85" fill="#222" font-family="Liberation Sans" stroke="#222" stroke-width="0.12">Extraction</text>
<polyline points="431.2,412.6 521.4,412.6 521.4,427.3 431.2,427.3" fill="none" stroke="#727272" stroke-width="1.4"/>
<line x1="421.0" y1="442.1" x2="423.5" y2="442.1" stroke="#1a1a1a" stroke-width="0.9" />
<text x="420.0" y="445.0" font-size="5.0" font-weight="bold" text-anchor="end" letter-spacing="0.85" fill="#222" font-family="Liberation Sans" stroke="#222" stroke-width="0.12">D3</text>
<polyline points="431.2,434.8 537.5,434.8 537.5,449.5 431.2,449.5" fill="none" stroke="#a5a5a5" stroke-width="1.3"/>
<line x1="421.0" y1="464.2" x2="423.5" y2="464.2" stroke="#1a1a1a" stroke-width="0.9" />
<text x="420.0" y="467.1" font-size="5.0" font-weight="bold" text-anchor="end" letter-spacing="0.85" fill="#222" font-family="Liberation Sans" stroke="#222" stroke-width="0.12">Dexamethasone</text>
<polyline points="431.2,456.9 543.0,456.9 543.0,471.6 431.2,471.6" fill="none" stroke="#1a1a1a" stroke-width="1.4"/>
<line x1="421.0" y1="486.4" x2="423.5" y2="486.4" stroke="#1a1a1a" stroke-width="0.9" />
<text x="420.0" y="489.3" font-size="5.0" font-weight="bold" text-anchor="end" letter-spacing="0.85" fill="#222" font-family="Liberation Sans" stroke="#222" stroke-width="0.12">Non-treatment</text>
<polyline points="431.2,479.0 558.7,479.0 558.7,493.8 431.2,493.8" fill="none" stroke="#a8a8a8" stroke-width="1.2"/>
<line x1="517.0" y1="397.8" x2="528.5" y2="397.8" stroke="#e8308c" stroke-width="1.0" />
<line x1="517.0" y1="394.5" x2="517.0" y2="401.1" stroke="#e8308c" stroke-width="1.1" />
<line x1="528.5" y1="394.5" x2="528.5" y2="401.1" stroke="#e8308c" stroke-width="1.1" />
<rect x="515.2" y="397.7" width="3.5" height="3.5" fill="#e8308c" stroke="none" stroke-width="1.0"/>
<rect x="517.5" y="394.2" width="3.5" height="3.5" fill="#e8308c" stroke="none" stroke-width="1.0"/>
<rect x="519.9" y="396.1" width="3.5" height="3.5" fill="#e8308c" stroke="none" stroke-width="1.0"/>
<rect x="522.1" y="396.1" width="3.5" height="3.5" fill="#e8308c" stroke="none" stroke-width="1.0"/>
<rect x="524.5" y="394.2" width="3.5" height="3.5" fill="#e8308c" stroke="none" stroke-width="1.0"/>
<rect x="526.8" y="397.7" width="3.5" height="3.5" fill="#e8308c" stroke="none" stroke-width="1.0"/>
<line x1="514.0" y1="419.9" x2="528.5" y2="419.9" stroke="#111" stroke-width="1.0" />
<line x1="514.0" y1="416.6" x2="514.0" y2="423.2" stroke="#111" stroke-width="1.1" />
<line x1="528.5" y1="416.6" x2="528.5" y2="423.2" stroke="#111" stroke-width="1.1" />
<polygon points="514.0,419.7 515.9,421.6 514.0,423.4 512.1,421.6" fill="#111"/>
<polygon points="516.9,416.2 518.8,418.1 516.9,419.9 515.0,418.1" fill="#111"/>
<polygon points="519.8,418.1 521.7,419.9 519.8,421.8 517.9,419.9" fill="#111"/>
<polygon points="522.7,418.1 524.6,419.9 522.7,421.8 520.8,419.9" fill="#111"/>
<polygon points="525.6,416.2 527.5,418.1 525.6,419.9 523.7,418.1" fill="#111"/>
<polygon points="528.5,419.7 530.4,421.6 528.5,423.4 526.6,421.6" fill="#111"/>
<line x1="532.3" y1="442.1" x2="543.0" y2="442.1" stroke="#1c8c1c" stroke-width="1.0" />
<line x1="532.3" y1="438.8" x2="532.3" y2="445.4" stroke="#1c8c1c" stroke-width="1.1" />
<line x1="543.0" y1="438.8" x2="543.0" y2="445.4" stroke="#1c8c1c" stroke-width="1.1" />
<polygon points="532.3,441.6 534.4,445.4 530.2,445.4" fill="#1c8c1c"/>
<polygon points="534.4,438.1 536.5,441.9 532.3,441.9" fill="#1c8c1c"/>
<polygon points="536.6,440.0 538.7,443.8 534.5,443.8" fill="#1c8c1c"/>
<polygon points="538.7,440.0 540.8,443.8 536.6,443.8" fill="#1c8c1c"/>
<polygon points="540.9,438.1 543.0,441.9 538.8,441.9" fill="#1c8c1c"/>
<polygon points="543.0,441.6 545.1,445.4 540.9,445.4" fill="#1c8c1c"/>
<line x1="523.6" y1="464.2" x2="558.0" y2="464.2" stroke="#1a1aee" stroke-width="1.0" />
<line x1="523.6" y1="460.9" x2="523.6" y2="467.6" stroke="#1a1aee" stroke-width="1.1" />
<line x1="558.0" y1="460.9" x2="558.0" y2="467.6" stroke="#1a1aee" stroke-width="1.1" />
<circle cx="523.6" cy="465.9" r="1.7" fill="#1a1aee"/>
<circle cx="527.0" cy="462.4" r="1.7" fill="#1a1aee"/>
<circle cx="530.4" cy="464.2" r="1.7" fill="#1a1aee"/>
<circle cx="551.2" cy="464.2" r="1.7" fill="#1a1aee"/>
<circle cx="554.6" cy="462.4" r="1.7" fill="#1a1aee"/>
<circle cx="558.0" cy="465.9" r="1.7" fill="#1a1aee"/>
<line x1="552.0" y1="486.4" x2="563.0" y2="486.4" stroke="#ee1a1a" stroke-width="1.0" />
<line x1="552.0" y1="483.1" x2="552.0" y2="489.7" stroke="#ee1a1a" stroke-width="1.1" />
<line x1="563.0" y1="483.1" x2="563.0" y2="489.7" stroke="#ee1a1a" stroke-width="1.1" />
<rect x="550.2" y="486.2" width="3.5" height="3.5" fill="#ee1a1a" stroke="none" stroke-width="1.0"/>
<rect x="552.5" y="482.8" width="3.5" height="3.5" fill="#ee1a1a" stroke="none" stroke-width="1.0"/>
<rect x="554.6" y="484.6" width="3.5" height="3.5" fill="#ee1a1a" stroke="none" stroke-width="1.0"/>
<rect x="556.9" y="484.6" width="3.5" height="3.5" fill="#ee1a1a" stroke="none" stroke-width="1.0"/>
<rect x="559.0" y="482.8" width="3.5" height="3.5" fill="#ee1a1a" stroke="none" stroke-width="1.0"/>
<rect x="561.2" y="486.2" width="3.5" height="3.5" fill="#ee1a1a" stroke="none" stroke-width="1.0"/>
<line x1="432.0" y1="506.0" x2="602.5" y2="506.0" stroke="#1a1a1a" stroke-width="1.1" />
<line x1="432.0" y1="506.0" x2="432.0" y2="508.6" stroke="#1a1a1a" stroke-width="1.0" />
<text x="434.0" y="515.8" font-size="5.3" font-weight="bold" text-anchor="end" letter-spacing="0.3" fill="#111" font-family="Liberation Sans" transform="rotate(-45 434.0 515.8)" stroke="#111" stroke-width="0.12">0.8</text>
<line x1="474.6" y1="506.0" x2="474.6" y2="508.6" stroke="#1a1a1a" stroke-width="1.0" />
<text x="476.6" y="515.8" font-size="5.3" font-weight="bold" text-anchor="end" letter-spacing="0.3" fill="#111" font-family="Liberation Sans" transform="rotate(-45 476.6 515.8)" stroke="#111" stroke-width="0.12">1.0</text>
<line x1="517.2" y1="506.0" x2="517.2" y2="508.6" stroke="#1a1a1a" stroke-width="1.0" />
<text x="519.2" y="515.8" font-size="5.3" font-weight="bold" text-anchor="end" letter-spacing="0.3" fill="#111" font-family="Liberation Sans" transform="rotate(-45 519.2 515.8)" stroke="#111" stroke-width="0.12">1.2</text>
<line x1="559.9" y1="506.0" x2="559.9" y2="508.6" stroke="#1a1a1a" stroke-width="1.0" />
<text x="561.9" y="515.8" font-size="5.3" font-weight="bold" text-anchor="end" letter-spacing="0.3" fill="#111" font-family="Liberation Sans" transform="rotate(-45 561.9 515.8)" stroke="#111" stroke-width="0.12">1.4</text>
<line x1="602.5" y1="506.0" x2="602.5" y2="508.6" stroke="#1a1a1a" stroke-width="1.0" />
<text x="604.5" y="515.8" font-size="5.3" font-weight="bold" text-anchor="end" letter-spacing="0.3" fill="#111" font-family="Liberation Sans" transform="rotate(-45 604.5 515.8)" stroke="#111" stroke-width="0.12">1.6</text>
<text x="517.5" y="536.7" font-size="5.3" font-weight="bold" text-anchor="middle" letter-spacing="0.7" fill="#111" font-family="Liberation Sans" stroke="#111" stroke-width="0.12">Relative mRNA expression</text>
<text x="405.7" y="523.7" font-size="13.5" font-weight="normal" text-anchor="middle" letter-spacing="1.2" fill="#111" font-family="Liberation Sans">vi</text>
<rect x="282.5" y="48.8" width="1.3" height="1.3" fill="#2a2a2a" stroke="none" stroke-width="1.0"/>
<rect x="285.3" y="48.8" width="1.3" height="1.3" fill="#2a2a2a" stroke="none" stroke-width="1.0"/>
<rect x="288.2" y="48.8" width="1.3" height="1.3" fill="#2a2a2a" stroke="none" stroke-width="1.0"/>
<rect x="256.2" y="70.9" width="1.3" height="1.3" fill="#2a2a2a" stroke="none" stroke-width="1.0"/>
<polyline points="256.6,27.3 299.8,27.3 299.8,82.4 263.8,82.4" fill="none" stroke="#a8a8a8" stroke-width="1.0"/>
<line x1="292.4" y1="49.2" x2="299.8" y2="49.2" stroke="#c8c8c8" stroke-width="1.6" />
<polyline points="261.2,71.2 263.8,71.2 263.8,94.2 243.2,94.2" fill="none" stroke="#a8a8a8" stroke-width="1.0"/>
<text x="303.2" y="35.6" font-size="5.8" font-weight="bold" text-anchor="start" letter-spacing="1.0" fill="#2a2a2a" font-family="Liberation Sans" transform="rotate(90 303.2 35.6)" stroke="#2a2a2a" stroke-width="0.12">**</text>
<text x="303.2" y="56.6" font-size="5.8" font-weight="bold" text-anchor="start" letter-spacing="1.0" fill="#2a2a2a" font-family="Liberation Sans" transform="rotate(90 303.2 56.6)" stroke="#2a2a2a" stroke-width="0.12">***/***</text>
<rect x="559.6" y="26.9" width="1.3" height="1.3" fill="#2a2a2a" stroke="none" stroke-width="1.0"/>
<rect x="562.5" y="26.9" width="1.3" height="1.3" fill="#2a2a2a" stroke="none" stroke-width="1.0"/>
<rect x="565.4" y="26.9" width="1.3" height="1.3" fill="#2a2a2a" stroke="none" stroke-width="1.0"/>
<rect x="568.2" y="26.9" width="1.3" height="1.3" fill="#2a2a2a" stroke="none" stroke-width="1.0"/>
<rect x="515.9" y="49.0" width="1.3" height="1.3" fill="#2a2a2a" stroke="none" stroke-width="1.0"/>
<rect x="518.7" y="49.0" width="1.3" height="1.3" fill="#2a2a2a" stroke="none" stroke-width="1.0"/>
<rect x="547.0" y="71.1" width="1.3" height="1.3" fill="#2a2a2a" stroke="none" stroke-width="1.0"/>
<rect x="549.8" y="71.1" width="1.3" height="1.3" fill="#2a2a2a" stroke="none" stroke-width="1.0"/>
<rect x="552.7" y="71.1" width="1.3" height="1.3" fill="#2a2a2a" stroke="none" stroke-width="1.0"/>
<rect x="555.5" y="71.1" width="1.3" height="1.3" fill="#2a2a2a" stroke="none" stroke-width="1.0"/>
<rect x="567.6" y="93.3" width="1.3" height="1.3" fill="#2a2a2a" stroke="none" stroke-width="1.0"/>
<rect x="570.4" y="93.3" width="1.3" height="1.3" fill="#2a2a2a" stroke="none" stroke-width="1.0"/>
<rect x="573.3" y="93.3" width="1.3" height="1.3" fill="#2a2a2a" stroke="none" stroke-width="1.0"/>
<rect x="576.1" y="93.3" width="1.3" height="1.3" fill="#2a2a2a" stroke="none" stroke-width="1.0"/>
<polyline points="527.0,49.8 585.7,49.8 585.7,92.5 581.5,92.5" fill="none" stroke="#a8a8a8" stroke-width="1.0"/>
<text x="587.1" y="71.2" font-size="5.8" font-weight="bold" text-anchor="start" letter-spacing="1.0" fill="#2a2a2a" font-family="Liberation Sans" transform="rotate(90 587.1 71.2)" stroke="#2a2a2a" stroke-width="0.12">*</text>
<rect x="258.9" y="206.9" width="1.3" height="1.3" fill="#2a2a2a" stroke="none" stroke-width="1.0"/>
<rect x="261.7" y="206.9" width="1.3" height="1.3" fill="#2a2a2a" stroke="none" stroke-width="1.0"/>
<rect x="284.6" y="229.1" width="1.3" height="1.3" fill="#2a2a2a" stroke="none" stroke-width="1.0"/>
<rect x="287.4" y="229.1" width="1.3" height="1.3" fill="#2a2a2a" stroke="none" stroke-width="1.0"/>
<rect x="290.2" y="229.1" width="1.3" height="1.3" fill="#2a2a2a" stroke="none" stroke-width="1.0"/>
<rect x="293.1" y="229.1" width="1.3" height="1.3" fill="#2a2a2a" stroke="none" stroke-width="1.0"/>
<rect x="254.3" y="251.2" width="1.3" height="1.3" fill="#2a2a2a" stroke="none" stroke-width="1.0"/>
<polyline points="296.6,229.1 303.0,229.1 303.0,262.9 262.8,262.9" fill="none" stroke="#a8a8a8" stroke-width="1.0"/>
<polyline points="257.4,251.3 262.8,251.3 262.8,274.7 241.3,274.7" fill="none" stroke="#a8a8a8" stroke-width="1.0"/>
<text x="306.3" y="229.5" font-size="5.8" font-weight="bold" text-anchor="start" letter-spacing="1.0" fill="#2a2a2a" font-family="Liberation Sans" transform="rotate(90 306.3 229.5)" stroke="#2a2a2a" stroke-width="0.12">****/****</text>
<rect x="180.5" y="192.0" width="1.0" height="1.0" fill="#2a2a2a" stroke="none" stroke-width="1.0"/>
<rect x="519.5" y="206.9" width="1.3" height="1.3" fill="#2a2a2a" stroke="none" stroke-width="1.0"/>
<rect x="522.3" y="206.9" width="1.3" height="1.3" fill="#2a2a2a" stroke="none" stroke-width="1.0"/>
<rect x="525.2" y="206.9" width="1.3" height="1.3" fill="#2a2a2a" stroke="none" stroke-width="1.0"/>
<rect x="528.0" y="206.9" width="1.3" height="1.3" fill="#2a2a2a" stroke="none" stroke-width="1.0"/>
<rect x="490.9" y="229.1" width="1.3" height="1.3" fill="#2a2a2a" stroke="none" stroke-width="1.0"/>
<rect x="493.7" y="229.1" width="1.3" height="1.3" fill="#2a2a2a" stroke="none" stroke-width="1.0"/>
<rect x="496.6" y="229.1" width="1.3" height="1.3" fill="#2a2a2a" stroke="none" stroke-width="1.0"/>
<rect x="499.4" y="229.1" width="1.3" height="1.3" fill="#2a2a2a" stroke="none" stroke-width="1.0"/>
<rect x="512.2" y="251.2" width="1.3" height="1.3" fill="#2a2a2a" stroke="none" stroke-width="1.0"/>
<rect x="515.1" y="251.2" width="1.3" height="1.3" fill="#2a2a2a" stroke="none" stroke-width="1.0"/>
<rect x="518.0" y="251.2" width="1.3" height="1.3" fill="#2a2a2a" stroke="none" stroke-width="1.0"/>
<rect x="520.8" y="251.2" width="1.3" height="1.3" fill="#2a2a2a" stroke="none" stroke-width="1.0"/>
<rect x="501.1" y="273.4" width="1.3" height="1.3" fill="#2a2a2a" stroke="none" stroke-width="1.0"/>
<rect x="503.9" y="273.4" width="1.3" height="1.3" fill="#2a2a2a" stroke="none" stroke-width="1.0"/>
<rect x="506.8" y="273.4" width="1.3" height="1.3" fill="#2a2a2a" stroke="none" stroke-width="1.0"/>
<rect x="509.6" y="273.4" width="1.3" height="1.3" fill="#2a2a2a" stroke="none" stroke-width="1.0"/>
<polyline points="533.3,205.7 536.5,205.7 536.5,228.2 506.0,228.2" fill="none" stroke="#a8a8a8" stroke-width="1.0"/>
<text x="537.3" y="209.1" font-size="5.8" font-weight="bold" text-anchor="start" letter-spacing="1.0" fill="#2a2a2a" font-family="Liberation Sans" transform="rotate(90 537.3 209.1)" stroke="#2a2a2a" stroke-width="0.12">****</text>
<polyline points="506.0,228.8 531.0,228.8 531.0,262.0 526.9,262.0" fill="none" stroke="#a8a8a8" stroke-width="1.0"/>
<text x="532.8" y="240.8" font-size="5.8" font-weight="bold" text-anchor="start" letter-spacing="1.0" fill="#2a2a2a" font-family="Liberation Sans" transform="rotate(90 532.8 240.8)" stroke="#2a2a2a" stroke-width="0.12">**/*</text>
<polyline points="522.7,251.3 526.2,251.3 526.2,273.8 512.4,273.8" fill="none" stroke="#a8a8a8" stroke-width="1.0"/>
<rect x="234.8" y="397.2" width="1.3" height="1.3" fill="#2a2a2a" stroke="none" stroke-width="1.0"/>
<rect x="237.7" y="397.2" width="1.3" height="1.3" fill="#2a2a2a" stroke="none" stroke-width="1.0"/>
<rect x="240.5" y="397.2" width="1.3" height="1.3" fill="#2a2a2a" stroke="none" stroke-width="1.0"/>
<rect x="243.4" y="397.2" width="1.3" height="1.3" fill="#2a2a2a" stroke="none" stroke-width="1.0"/>
<rect x="231.5" y="419.3" width="1.3" height="1.3" fill="#2a2a2a" stroke="none" stroke-width="1.0"/>
<rect x="234.4" y="419.3" width="1.3" height="1.3" fill="#2a2a2a" stroke="none" stroke-width="1.0"/>
<rect x="237.2" y="419.3" width="1.3" height="1.3" fill="#2a2a2a" stroke="none" stroke-width="1.0"/>
<rect x="240.1" y="419.3" width="1.3" height="1.3" fill="#2a2a2a" stroke="none" stroke-width="1.0"/>
<rect x="254.8" y="463.6" width="1.3" height="1.3" fill="#2a2a2a" stroke="none" stroke-width="1.0"/>
<rect x="257.7" y="463.6" width="1.3" height="1.3" fill="#2a2a2a" stroke="none" stroke-width="1.0"/>
<polyline points="246.1,418.8 256.4,418.8 256.4,441.9 251.0,441.9" fill="none" stroke="#a8a8a8" stroke-width="1.0"/>
<text x="259.0" y="422.4" font-size="5.8" font-weight="bold" text-anchor="start" letter-spacing="1.0" fill="#2a2a2a" font-family="Liberation Sans" transform="rotate(90 259.0 422.4)" stroke="#2a2a2a" stroke-width="0.12">****</text>
<rect x="530.9" y="397.2" width="1.3" height="1.3" fill="#2a2a2a" stroke="none" stroke-width="1.0"/>
<rect x="533.7" y="397.2" width="1.3" height="1.3" fill="#2a2a2a" stroke="none" stroke-width="1.0"/>
<rect x="536.6" y="397.2" width="1.3" height="1.3" fill="#2a2a2a" stroke="none" stroke-width="1.0"/>
<rect x="539.4" y="397.2" width="1.3" height="1.3" fill="#2a2a2a" stroke="none" stroke-width="1.0"/>
<rect x="530.6" y="419.3" width="1.3" height="1.3" fill="#2a2a2a" stroke="none" stroke-width="1.0"/>
<rect x="533.4" y="419.3" width="1.3" height="1.3" fill="#2a2a2a" stroke="none" stroke-width="1.0"/>
<rect x="536.3" y="419.3" width="1.3" height="1.3" fill="#2a2a2a" stroke="none" stroke-width="1.0"/>
<rect x="539.1" y="419.3" width="1.3" height="1.3" fill="#2a2a2a" stroke="none" stroke-width="1.0"/>
<rect x="546.4" y="441.5" width="1.3" height="1.3" fill="#2a2a2a" stroke="none" stroke-width="1.0"/>
<rect x="549.2" y="441.5" width="1.3" height="1.3" fill="#2a2a2a" stroke="none" stroke-width="1.0"/>
<rect x="552.1" y="441.5" width="1.3" height="1.3" fill="#2a2a2a" stroke="none" stroke-width="1.0"/>
<rect x="562.6" y="463.6" width="1.3" height="1.3" fill="#2a2a2a" stroke="none" stroke-width="1.0"/>
<polyline points="545.2,419.4 570.2,419.4 570.2,441.3 557.4,441.3" fill="none" stroke="#a8a8a8" stroke-width="1.0"/>
<polyline points="544.5,417.8 577.3,417.8 577.3,463.4 567.0,463.4" fill="none" stroke="#a8a8a8" stroke-width="1.0"/>
<text x="571.5" y="428.8" font-size="5.8" font-weight="bold" text-anchor="start" letter-spacing="1.0" fill="#2a2a2a" font-family="Liberation Sans" transform="rotate(90 571.5 428.8)" stroke="#2a2a2a" stroke-width="0.12">*</text>
<text x="581.2" y="439.6" font-size="5.8" font-weight="bold" text-anchor="start" letter-spacing="1.0" fill="#2a2a2a" font-family="Liberation Sans" transform="rotate(90 581.2 439.6)" stroke="#2a2a2a" stroke-width="0.12">**</text>
<text transform="translate(61.2,19.5) scale(0.95,1)" font-size="21.6" font-weight="bold" text-anchor="middle" fill="#000" stroke="#000" stroke-width="0.45" font-family="Liberation Sans">A</text>
<text transform="translate(1.0,592.8) scale(0.83,1)" font-size="22.5" font-weight="bold" fill="#000" stroke="#000" stroke-width="0.5" font-family="Liberation Sans">B</text>
<rect x="29.2" y="555.8" width="161.2" height="157.4" fill="none" stroke="#c2d1e7" stroke-width="1.0"/>
<rect x="522.4" y="556.2" width="161.3" height="157.6" fill="none" stroke="#c2d1e7" stroke-width="1.0"/>
<rect x="29.3" y="719.6" width="654.4" height="136.8" fill="none" stroke="#c2d1e7" stroke-width="1.0"/>
<rect x="284.4" y="1002.5" width="165.3" height="147.0" fill="none" stroke="#c2d1e7" stroke-width="1.0"/>
<line x1="52.8" y1="596.0" x2="52.8" y2="662.3" stroke="#333" stroke-width="1.1" />
<line x1="50.4" y1="662.0" x2="52.8" y2="662.0" stroke="#222" stroke-width="0.9" />
<text x="49.8" y="664.2" font-size="4.6" font-weight="bold" text-anchor="end" letter-spacing="0.4" fill="#111" font-family="Liberation Sans" stroke="#111" stroke-width="0.12">0</text>
<line x1="50.4" y1="645.5" x2="52.8" y2="645.5" stroke="#222" stroke-width="0.9" />
<text x="49.8" y="647.7" font-size="4.6" font-weight="bold" text-anchor="end" letter-spacing="0.4" fill="#111" font-family="Liberation Sans" stroke="#111" stroke-width="0.12">10</text>
<line x1="50.4" y1="629.0" x2="52.8" y2="629.0" stroke="#222" stroke-width="0.9" />
<text x="49.8" y="631.2" font-size="4.6" font-weight="bold" text-anchor="end" letter-spacing="0.4" fill="#111" font-family="Liberation Sans" stroke="#111" stroke-width="0.12">20</text>
<line x1="50.4" y1="612.5" x2="52.8" y2="612.5" stroke="#222" stroke-width="0.9" />
<text x="49.8" y="614.7" font-size="4.6" font-weight="bold" text-anchor="end" letter-spacing="0.4" fill="#111" font-family="Liberation Sans" stroke="#111" stroke-width="0.12">30</text>
<line x1="50.4" y1="596.0" x2="52.8" y2="596.0" stroke="#222" stroke-width="0.9" />
<text x="49.8" y="598.2" font-size="4.6" font-weight="bold" text-anchor="end" letter-spacing="0.4" fill="#111" font-family="Liberation Sans" stroke="#111" stroke-width="0.12">40</text>
<text x="41.1" y="629.3" font-size="4.9" font-weight="bold" text-anchor="middle" letter-spacing="0.5" fill="#111" font-family="Liberation Sans" transform="rotate(-90 41.1 629.3)" stroke="#111" stroke-width="0.12">TNF-α&#160;&#160;(pg/ml)</text>
<rect x="62.8" y="636.3" width="14.5" height="25.7" fill="#050505" stroke="none" stroke-width="1.0"/>
<line x1="70.0" y1="636.3" x2="70.0" y2="631.0" stroke="#111" stroke-width="1.2" />
<line x1="67.0" y1="631.0" x2="73.0" y2="631.0" stroke="#111" stroke-width="1.2" />
<rect x="82.9" y="645.5" width="14.5" height="16.5" fill="#9b9b9b" stroke="none" stroke-width="1.0"/>
<line x1="90.2" y1="645.5" x2="90.2" y2="641.5" stroke="#3a3a3a" stroke-width="1.2" />
<line x1="87.2" y1="641.5" x2="93.2" y2="641.5" stroke="#3a3a3a" stroke-width="1.2" />
<rect x="103.0" y="661.1" width="14.5" height="0.9" fill="#8e8e8e" stroke="none" stroke-width="1.0"/>
<rect x="123.1" y="661.1" width="14.5" height="0.9" fill="#dcdcdc" stroke="none" stroke-width="1.0"/>
<rect x="143.2" y="620.8" width="14.5" height="41.2" fill="#737373" stroke="none" stroke-width="1.0"/>
<line x1="150.4" y1="620.8" x2="150.4" y2="613.2" stroke="#3a3a3a" stroke-width="1.2" />
<line x1="147.4" y1="613.2" x2="153.4" y2="613.2" stroke="#3a3a3a" stroke-width="1.2" />
<rect x="163.3" y="641.5" width="14.5" height="20.5" fill="#a1a1a5" stroke="none" stroke-width="1.0"/>
<line x1="170.6" y1="641.5" x2="170.6" y2="640.2" stroke="#3a3a3a" stroke-width="1.2" />
<line x1="167.6" y1="640.2" x2="173.6" y2="640.2" stroke="#3a3a3a" stroke-width="1.2" />
<line x1="60.0" y1="668.3" x2="180.8" y2="668.3" stroke="#3a3a3a" stroke-width="1.1" />
<line x1="70.0" y1="668.3" x2="70.0" y2="670.7" stroke="#222" stroke-width="0.9" />
<text x="72.0" y="674.7" font-size="4.6" font-weight="bold" text-anchor="end" letter-spacing="0.42" fill="#111" font-family="Liberation Sans" transform="rotate(-45 72.0 674.7)" stroke="#111" stroke-width="0.12">Non-treatment</text>
<line x1="90.2" y1="668.3" x2="90.2" y2="670.7" stroke="#222" stroke-width="0.9" />
<text x="92.2" y="674.7" font-size="4.6" font-weight="bold" text-anchor="end" letter-spacing="0.42" fill="#111" font-family="Liberation Sans" transform="rotate(-45 92.2 674.7)" stroke="#111" stroke-width="0.12">200 µg/ml</text>
<line x1="110.2" y1="668.3" x2="110.2" y2="670.7" stroke="#222" stroke-width="0.9" />
<text x="112.2" y="674.7" font-size="4.6" font-weight="bold" text-anchor="end" letter-spacing="0.42" fill="#111" font-family="Liberation Sans" transform="rotate(-45 112.2 674.7)" stroke="#111" stroke-width="0.12">400 µg/ml</text>
<line x1="130.3" y1="668.3" x2="130.3" y2="670.7" stroke="#222" stroke-width="0.9" />
<text x="132.3" y="674.7" font-size="4.6" font-weight="bold" text-anchor="end" letter-spacing="0.42" fill="#111" font-family="Liberation Sans" transform="rotate(-45 132.3 674.7)" stroke="#111" stroke-width="0.12">800 µg/ml</text>
<line x1="150.4" y1="668.3" x2="150.4" y2="670.7" stroke="#222" stroke-width="0.9" />
<text x="152.4" y="674.7" font-size="4.6" font-weight="bold" text-anchor="end" letter-spacing="0.42" fill="#111" font-family="Liberation Sans" transform="rotate(-45 152.4 674.7)" stroke="#111" stroke-width="0.12">Betamethasone</text>
<line x1="170.6" y1="668.3" x2="170.6" y2="670.7" stroke="#222" stroke-width="0.9" />
<text x="172.6" y="674.7" font-size="4.6" font-weight="bold" text-anchor="end" letter-spacing="0.42" fill="#111" font-family="Liberation Sans" transform="rotate(-45 172.6 674.7)" stroke="#111" stroke-width="0.12">Calcitriol (D3)</text>
<polyline points="64.2,700.1 64.2,701.3 118.3,701.3 118.3,700.1" fill="none" stroke="#666" stroke-width="0.8"/>
<text x="90.7" y="707.9" font-size="4.6" font-weight="bold" text-anchor="middle" letter-spacing="0.28" fill="#111" font-family="Liberation Sans" stroke="#111" stroke-width="0.12">Extraction</text>
<text x="41.9" y="672.8" font-size="10.8" font-weight="normal" text-anchor="middle" letter-spacing="0.6" fill="#111" font-family="Liberation Sans">i</text>
<text x="110.7" y="658.6" font-size="6.2" font-weight="bold" text-anchor="middle" letter-spacing="0.8" fill="#222" font-family="Liberation Sans" stroke="#222" stroke-width="0.12">**</text>
<text x="130.8" y="658.6" font-size="6.2" font-weight="bold" text-anchor="middle" letter-spacing="0.8" fill="#222" font-family="Liberation Sans" stroke="#222" stroke-width="0.12">**</text>
<line x1="91.4" y1="634.1" x2="129.9" y2="634.1" stroke="#c4c4c4" stroke-width="1.3" />
<polyline points="110.0,634.1 110.0,593.8 172.3,593.8 172.3,638.0" fill="none" stroke="#9d9d9d" stroke-width="0.9"/>
<polyline points="111.5,634.1 111.5,603.6 149.6,603.6 149.6,608.0" fill="none" stroke="#9d9d9d" stroke-width="0.9"/>
<polyline points="151.6,608.0 151.6,603.6 170.8,603.6 170.8,638.0" fill="none" stroke="#9d9d9d" stroke-width="0.9"/>
<text x="140.5" y="592.9" font-size="6.2" font-weight="bold" text-anchor="middle" letter-spacing="0.8" fill="#222" font-family="Liberation Sans" stroke="#222" stroke-width="0.12">*</text>
<text x="130.9" y="601.8" font-size="6.2" font-weight="bold" text-anchor="middle" letter-spacing="0.8" fill="#222" font-family="Liberation Sans" stroke="#222" stroke-width="0.12">*/***/***</text>
<text x="161.0" y="603.8" font-size="6.2" font-weight="bold" text-anchor="middle" letter-spacing="0.8" fill="#222" font-family="Liberation Sans" stroke="#222" stroke-width="0.12">*</text>
<line x1="217.2" y1="596.0" x2="217.2" y2="662.3" stroke="#333" stroke-width="1.1" />
<line x1="214.8" y1="662.0" x2="217.2" y2="662.0" stroke="#222" stroke-width="0.9" />
<text x="214.2" y="664.2" font-size="4.6" font-weight="bold" text-anchor="end" letter-spacing="0.4" fill="#111" font-family="Liberation Sans" stroke="#111" stroke-width="0.12">0</text>
<line x1="214.8" y1="640.0" x2="217.2" y2="640.0" stroke="#222" stroke-width="0.9" />
<text x="214.2" y="642.2" font-size="4.6" font-weight="bold" text-anchor="end" letter-spacing="0.4" fill="#111" font-family="Liberation Sans" stroke="#111" stroke-width="0.12">5</text>
<line x1="214.8" y1="618.0" x2="217.2" y2="618.0" stroke="#222" stroke-width="0.9" />
<text x="214.2" y="620.2" font-size="4.6" font-weight="bold" text-anchor="end" letter-spacing="0.4" fill="#111" font-family="Liberation Sans" stroke="#111" stroke-width="0.12">10</text>
<line x1="214.8" y1="596.0" x2="217.2" y2="596.0" stroke="#222" stroke-width="0.9" />
<text x="214.2" y="598.2" font-size="4.6" font-weight="bold" text-anchor="end" letter-spacing="0.4" fill="#111" font-family="Liberation Sans" stroke="#111" stroke-width="0.12">15</text>
<text x="205.7" y="629.3" font-size="4.9" font-weight="bold" text-anchor="middle" letter-spacing="0.5" fill="#111" font-family="Liberation Sans" transform="rotate(-90 205.7 629.3)" stroke="#111" stroke-width="0.12">IFN-γ&#160;&#160;(pg/ml)</text>
<rect x="228.0" y="656.5" width="14.5" height="5.5" fill="#050505" stroke="none" stroke-width="1.0"/>
<line x1="235.2" y1="656.5" x2="235.2" y2="650.5" stroke="#111" stroke-width="1.2" />
<line x1="232.2" y1="650.5" x2="238.2" y2="650.5" stroke="#111" stroke-width="1.2" />
<rect x="248.3" y="656.5" width="14.5" height="5.5" fill="#9b9b9b" stroke="none" stroke-width="1.0"/>
<line x1="255.6" y1="656.5" x2="255.6" y2="650.5" stroke="#3a3a3a" stroke-width="1.2" />
<line x1="252.6" y1="650.5" x2="258.6" y2="650.5" stroke="#3a3a3a" stroke-width="1.2" />
<rect x="268.6" y="660.8" width="14.5" height="1.2" fill="#7a7a7a" stroke="none" stroke-width="1.0"/>
<line x1="275.9" y1="660.8" x2="275.9" y2="660.4" stroke="#3a3a3a" stroke-width="1.2" />
<line x1="272.9" y1="660.4" x2="278.9" y2="660.4" stroke="#3a3a3a" stroke-width="1.2" />
<rect x="288.9" y="658.4" width="14.5" height="3.6" fill="#dcdcdc" stroke="none" stroke-width="1.0"/>
<line x1="296.1" y1="658.4" x2="296.1" y2="656.1" stroke="#3a3a3a" stroke-width="1.2" />
<line x1="293.1" y1="656.1" x2="299.1" y2="656.1" stroke="#3a3a3a" stroke-width="1.2" />
<rect x="309.2" y="616.5" width="14.5" height="45.5" fill="#737373" stroke="none" stroke-width="1.0"/>
<line x1="316.4" y1="616.5" x2="316.4" y2="615.8" stroke="#3a3a3a" stroke-width="1.2" />
<line x1="313.4" y1="615.8" x2="319.4" y2="615.8" stroke="#3a3a3a" stroke-width="1.2" />
<rect x="329.5" y="656.5" width="14.5" height="5.5" fill="#a1a1a5" stroke="none" stroke-width="1.0"/>
<line x1="336.8" y1="656.5" x2="336.8" y2="650.5" stroke="#3a3a3a" stroke-width="1.2" />
<line x1="333.8" y1="650.5" x2="339.8" y2="650.5" stroke="#3a3a3a" stroke-width="1.2" />
<line x1="224.4" y1="668.3" x2="347.0" y2="668.3" stroke="#3a3a3a" stroke-width="1.1" />
<line x1="235.2" y1="668.3" x2="235.2" y2="670.7" stroke="#222" stroke-width="0.9" />
<text x="237.2" y="674.7" font-size="4.6" font-weight="bold" text-anchor="end" letter-spacing="0.42" fill="#111" font-family="Liberation Sans" transform="rotate(-45 237.2 674.7)" stroke="#111" stroke-width="0.12">Non-treatment</text>
<line x1="255.6" y1="668.3" x2="255.6" y2="670.7" stroke="#222" stroke-width="0.9" />
<text x="257.6" y="674.7" font-size="4.6" font-weight="bold" text-anchor="end" letter-spacing="0.42" fill="#111" font-family="Liberation Sans" transform="rotate(-45 257.6 674.7)" stroke="#111" stroke-width="0.12">200 µg/ml</text>
<line x1="275.9" y1="668.3" x2="275.9" y2="670.7" stroke="#222" stroke-width="0.9" />
<text x="277.9" y="674.7" font-size="4.6" font-weight="bold" text-anchor="end" letter-spacing="0.42" fill="#111" font-family="Liberation Sans" transform="rotate(-45 277.9 674.7)" stroke="#111" stroke-width="0.12">400 µg/ml</text>
<line x1="296.1" y1="668.3" x2="296.1" y2="670.7" stroke="#222" stroke-width="0.9" />
<text x="298.1" y="674.7" font-size="4.6" font-weight="bold" text-anchor="end" letter-spacing="0.42" fill="#111" font-family="Liberation Sans" transform="rotate(-45 298.1 674.7)" stroke="#111" stroke-width="0.12">800 µg/ml</text>
<line x1="316.4" y1="668.3" x2="316.4" y2="670.7" stroke="#222" stroke-width="0.9" />
<text x="318.4" y="674.7" font-size="4.6" font-weight="bold" text-anchor="end" letter-spacing="0.42" fill="#111" font-family="Liberation Sans" transform="rotate(-45 318.4 674.7)" stroke="#111" stroke-width="0.12">Betamethasone</text>
<line x1="336.8" y1="668.3" x2="336.8" y2="670.7" stroke="#222" stroke-width="0.9" />
<text x="338.8" y="674.7" font-size="4.6" font-weight="bold" text-anchor="end" letter-spacing="0.42" fill="#111" font-family="Liberation Sans" transform="rotate(-45 338.8 674.7)" stroke="#111" stroke-width="0.12">Calcitriol (D3)</text>
<polyline points="229.6,700.1 229.6,701.3 284.1,701.3 284.1,700.1" fill="none" stroke="#666" stroke-width="0.8"/>
<text x="256.1" y="707.9" font-size="4.6" font-weight="bold" text-anchor="middle" letter-spacing="0.28" fill="#111" font-family="Liberation Sans" stroke="#111" stroke-width="0.12">Extraction</text>
<text x="208.3" y="672.8" font-size="10.8" font-weight="normal" text-anchor="middle" letter-spacing="0.6" fill="#111" font-family="Liberation Sans">ii</text>
<line x1="251.2" y1="644.3" x2="296.3" y2="644.3" stroke="#b0b0b0" stroke-width="1.0" />
<polyline points="275.3,644.3 275.3,601.5 336.5,601.5 336.5,649.0" fill="none" stroke="#9d9d9d" stroke-width="0.9"/>
<line x1="316.9" y1="601.5" x2="316.9" y2="605.0" stroke="#9d9d9d" stroke-width="0.9" />
<text x="298.4" y="601.2" font-size="6.2" font-weight="bold" text-anchor="middle" letter-spacing="0.8" fill="#222" font-family="Liberation Sans" stroke="#222" stroke-width="0.12">****</text>
<text x="327.4" y="601.2" font-size="6.2" font-weight="bold" text-anchor="middle" letter-spacing="0.8" fill="#222" font-family="Liberation Sans" stroke="#222" stroke-width="0.12">****</text>
<text x="317.0" y="613.8" font-size="6.2" font-weight="bold" text-anchor="middle" letter-spacing="0.8" fill="#222" font-family="Liberation Sans" stroke="#222" stroke-width="0.12">****</text>
<line x1="382.2" y1="596.0" x2="382.2" y2="662.3" stroke="#333" stroke-width="1.1" />
<line x1="379.8" y1="662.0" x2="382.2" y2="662.0" stroke="#222" stroke-width="0.9" />
<text x="379.2" y="664.2" font-size="4.6" font-weight="bold" text-anchor="end" letter-spacing="0.4" fill="#111" font-family="Liberation Sans" stroke="#111" stroke-width="0.12">0</text>
<line x1="379.8" y1="645.5" x2="382.2" y2="645.5" stroke="#222" stroke-width="0.9" />
<text x="379.2" y="647.7" font-size="4.6" font-weight="bold" text-anchor="end" letter-spacing="0.4" fill="#111" font-family="Liberation Sans" stroke="#111" stroke-width="0.12">10</text>
<line x1="379.8" y1="629.0" x2="382.2" y2="629.0" stroke="#222" stroke-width="0.9" />
<text x="379.2" y="631.2" font-size="4.6" font-weight="bold" text-anchor="end" letter-spacing="0.4" fill="#111" font-family="Liberation Sans" stroke="#111" stroke-width="0.12">20</text>
<line x1="379.8" y1="612.5" x2="382.2" y2="612.5" stroke="#222" stroke-width="0.9" />
<text x="379.2" y="614.7" font-size="4.6" font-weight="bold" text-anchor="end" letter-spacing="0.4" fill="#111" font-family="Liberation Sans" stroke="#111" stroke-width="0.12">30</text>
<line x1="379.8" y1="596.0" x2="382.2" y2="596.0" stroke="#222" stroke-width="0.9" />
<text x="379.2" y="598.2" font-size="4.6" font-weight="bold" text-anchor="end" letter-spacing="0.4" fill="#111" font-family="Liberation Sans" stroke="#111" stroke-width="0.12">40</text>
<text x="370.0" y="629.3" font-size="4.9" font-weight="bold" text-anchor="middle" letter-spacing="0.5" fill="#111" font-family="Liberation Sans" transform="rotate(-90 370.0 629.3)" stroke="#111" stroke-width="0.12">IL-1α&#160;&#160;(pg/ml)</text>
<rect x="392.0" y="643.9" width="14.5" height="18.1" fill="#050505" stroke="none" stroke-width="1.0"/>
<rect x="412.3" y="632.0" width="14.5" height="30.0" fill="#9b9b9b" stroke="none" stroke-width="1.0"/>
<line x1="419.6" y1="632.0" x2="419.6" y2="631.6" stroke="#3a3a3a" stroke-width="1.2" />
<line x1="416.6" y1="631.6" x2="422.6" y2="631.6" stroke="#3a3a3a" stroke-width="1.2" />
<rect x="432.6" y="652.1" width="14.5" height="9.9" fill="#8e8e8e" stroke="none" stroke-width="1.0"/>
<line x1="439.9" y1="652.1" x2="439.9" y2="639.6" stroke="#3a3a3a" stroke-width="1.2" />
<line x1="436.9" y1="639.6" x2="442.9" y2="639.6" stroke="#3a3a3a" stroke-width="1.2" />
<rect x="452.9" y="659.7" width="14.5" height="2.3" fill="#dcdcdc" stroke="none" stroke-width="1.0"/>
<line x1="460.1" y1="659.7" x2="460.1" y2="658.7" stroke="#3a3a3a" stroke-width="1.2" />
<line x1="457.1" y1="658.7" x2="463.1" y2="658.7" stroke="#3a3a3a" stroke-width="1.2" />
<rect x="473.2" y="601.9" width="14.5" height="60.1" fill="#737373" stroke="none" stroke-width="1.0"/>
<line x1="480.4" y1="601.9" x2="480.4" y2="599.3" stroke="#3a3a3a" stroke-width="1.2" />
<line x1="477.4" y1="599.3" x2="483.4" y2="599.3" stroke="#3a3a3a" stroke-width="1.2" />
<rect x="493.5" y="626.4" width="14.5" height="35.6" fill="#a1a1a5" stroke="none" stroke-width="1.0"/>
<line x1="500.8" y1="626.4" x2="500.8" y2="626.0" stroke="#3a3a3a" stroke-width="1.2" />
<line x1="497.8" y1="626.0" x2="503.8" y2="626.0" stroke="#3a3a3a" stroke-width="1.2" />
<line x1="389.4" y1="668.3" x2="511.0" y2="668.3" stroke="#3a3a3a" stroke-width="1.1" />
<line x1="399.2" y1="668.3" x2="399.2" y2="670.7" stroke="#222" stroke-width="0.9" />
<text x="401.2" y="674.7" font-size="4.6" font-weight="bold" text-anchor="end" letter-spacing="0.42" fill="#111" font-family="Liberation Sans" transform="rotate(-45 401.2 674.7)" stroke="#111" stroke-width="0.12">Non-treatment</text>
<line x1="419.6" y1="668.3" x2="419.6" y2="670.7" stroke="#222" stroke-width="0.9" />
<text x="421.6" y="674.7" font-size="4.6" font-weight="bold" text-anchor="end" letter-spacing="0.42" fill="#111" font-family="Liberation Sans" transform="rotate(-45 421.6 674.7)" stroke="#111" stroke-width="0.12">200 µg/ml</text>
<line x1="439.9" y1="668.3" x2="439.9" y2="670.7" stroke="#222" stroke-width="0.9" />
<text x="441.9" y="674.7" font-size="4.6" font-weight="bold" text-anchor="end" letter-spacing="0.42" fill="#111" font-family="Liberation Sans" transform="rotate(-45 441.9 674.7)" stroke="#111" stroke-width="0.12">400 µg/ml</text>
<line x1="460.1" y1="668.3" x2="460.1" y2="670.7" stroke="#222" stroke-width="0.9" />
<text x="462.1" y="674.7" font-size="4.6" font-weight="bold" text-anchor="end" letter-spacing="0.42" fill="#111" font-family="Liberation Sans" transform="rotate(-45 462.1 674.7)" stroke="#111" stroke-width="0.12">800 µg/ml</text>
<line x1="480.4" y1="668.3" x2="480.4" y2="670.7" stroke="#222" stroke-width="0.9" />
<text x="482.4" y="674.7" font-size="4.6" font-weight="bold" text-anchor="end" letter-spacing="0.42" fill="#111" font-family="Liberation Sans" transform="rotate(-45 482.4 674.7)" stroke="#111" stroke-width="0.12">Betamethasone</text>
<line x1="500.8" y1="668.3" x2="500.8" y2="670.7" stroke="#222" stroke-width="0.9" />
<text x="502.8" y="674.7" font-size="4.6" font-weight="bold" text-anchor="end" letter-spacing="0.42" fill="#111" font-family="Liberation Sans" transform="rotate(-45 502.8 674.7)" stroke="#111" stroke-width="0.12">Calcitriol (D3)</text>
<polyline points="393.6,700.1 393.6,701.3 448.1,701.3 448.1,700.1" fill="none" stroke="#666" stroke-width="0.8"/>
<text x="420.1" y="707.9" font-size="4.6" font-weight="bold" text-anchor="middle" letter-spacing="0.28" fill="#111" font-family="Liberation Sans" stroke="#111" stroke-width="0.12">Extraction</text>
<text x="366.8" y="672.8" font-size="10.8" font-weight="normal" text-anchor="middle" letter-spacing="0.6" fill="#111" font-family="Liberation Sans">iii</text>
<line x1="393.2" y1="617.2" x2="464.0" y2="617.2" stroke="#9d9d9d" stroke-width="0.9" />
<polyline points="420.0,627.0 420.0,625.0 461.2,625.0 461.2,657.5" fill="none" stroke="#9d9d9d" stroke-width="0.9"/>
<text x="442.7" y="626.2" font-size="6.2" font-weight="bold" text-anchor="middle" letter-spacing="0.8" fill="#222" font-family="Liberation Sans" stroke="#222" stroke-width="0.12">*</text>
<polyline points="430.6,617.2 430.6,586.2 480.1,586.2 480.1,595.5" fill="none" stroke="#9d9d9d" stroke-width="0.9"/>
<polyline points="481.6,595.5 481.6,593.3 501.4,593.3 501.4,624.5" fill="none" stroke="#9d9d9d" stroke-width="0.9"/>
<text x="457.8" y="585.3" font-size="6.2" font-weight="bold" text-anchor="middle" letter-spacing="0.8" fill="#222" font-family="Liberation Sans" stroke="#222" stroke-width="0.12">**/*/***/***</text>
<text x="491.3" y="594.0" font-size="6.2" font-weight="bold" text-anchor="middle" letter-spacing="0.8" fill="#222" font-family="Liberation Sans" stroke="#222" stroke-width="0.12">*</text>
<line x1="463.8" y1="574.5" x2="500.7" y2="574.5" stroke="#9d9d9d" stroke-width="0.9" />
<text x="482.4" y="574.6" font-size="6.2" font-weight="bold" text-anchor="middle" letter-spacing="0.8" fill="#222" font-family="Liberation Sans" stroke="#222" stroke-width="0.12">**</text>
<line x1="546.5" y1="596.0" x2="546.5" y2="662.3" stroke="#333" stroke-width="1.1" />
<line x1="544.1" y1="662.0" x2="546.5" y2="662.0" stroke="#222" stroke-width="0.9" />
<text x="543.5" y="664.2" font-size="4.6" font-weight="bold" text-anchor="end" letter-spacing="0.4" fill="#111" font-family="Liberation Sans" stroke="#111" stroke-width="0.12">0</text>
<line x1="544.1" y1="648.8" x2="546.5" y2="648.8" stroke="#222" stroke-width="0.9" />
<text x="543.5" y="651.0" font-size="4.6" font-weight="bold" text-anchor="end" letter-spacing="0.4" fill="#111" font-family="Liberation Sans" stroke="#111" stroke-width="0.12">1</text>
<line x1="544.1" y1="635.6" x2="546.5" y2="635.6" stroke="#222" stroke-width="0.9" />
<text x="543.5" y="637.8" font-size="4.6" font-weight="bold" text-anchor="end" letter-spacing="0.4" fill="#111" font-family="Liberation Sans" stroke="#111" stroke-width="0.12">2</text>
<line x1="544.1" y1="622.4" x2="546.5" y2="622.4" stroke="#222" stroke-width="0.9" />
<text x="543.5" y="624.6" font-size="4.6" font-weight="bold" text-anchor="end" letter-spacing="0.4" fill="#111" font-family="Liberation Sans" stroke="#111" stroke-width="0.12">3</text>
<line x1="544.1" y1="609.2" x2="546.5" y2="609.2" stroke="#222" stroke-width="0.9" />
<text x="543.5" y="611.4" font-size="4.6" font-weight="bold" text-anchor="end" letter-spacing="0.4" fill="#111" font-family="Liberation Sans" stroke="#111" stroke-width="0.12">4</text>
<line x1="544.1" y1="596.0" x2="546.5" y2="596.0" stroke="#222" stroke-width="0.9" />
<text x="543.5" y="598.2" font-size="4.6" font-weight="bold" text-anchor="end" letter-spacing="0.4" fill="#111" font-family="Liberation Sans" stroke="#111" stroke-width="0.12">5</text>
<text x="538.2" y="629.3" font-size="4.9" font-weight="bold" text-anchor="middle" letter-spacing="0.5" fill="#111" font-family="Liberation Sans" transform="rotate(-90 538.2 629.3)" stroke="#111" stroke-width="0.12">IL-1β&#160;&#160;(pg/ml)</text>
<rect x="557.2" y="642.9" width="14.5" height="19.1" fill="#050505" stroke="none" stroke-width="1.0"/>
<line x1="564.5" y1="642.9" x2="564.5" y2="642.2" stroke="#111" stroke-width="1.2" />
<line x1="561.5" y1="642.2" x2="567.5" y2="642.2" stroke="#111" stroke-width="1.2" />
<rect x="577.5" y="660.7" width="14.5" height="1.3" fill="#9b9b9b" stroke="none" stroke-width="1.0"/>
<rect x="597.8" y="660.7" width="14.5" height="1.3" fill="#8e8e8e" stroke="none" stroke-width="1.0"/>
<rect x="618.1" y="661.1" width="14.5" height="0.9" fill="#dcdcdc" stroke="none" stroke-width="1.0"/>
<rect x="638.4" y="603.3" width="14.5" height="58.7" fill="#737373" stroke="none" stroke-width="1.0"/>
<line x1="645.7" y1="603.3" x2="645.7" y2="600.6" stroke="#3a3a3a" stroke-width="1.2" />
<line x1="642.7" y1="600.6" x2="648.7" y2="600.6" stroke="#3a3a3a" stroke-width="1.2" />
<rect x="658.7" y="647.5" width="14.5" height="14.5" fill="#a1a1a5" stroke="none" stroke-width="1.0"/>
<line x1="666.0" y1="647.5" x2="666.0" y2="647.1" stroke="#3a3a3a" stroke-width="1.2" />
<line x1="663.0" y1="647.1" x2="669.0" y2="647.1" stroke="#3a3a3a" stroke-width="1.2" />
<line x1="553.7" y1="668.3" x2="676.2" y2="668.3" stroke="#3a3a3a" stroke-width="1.1" />
<line x1="564.5" y1="668.3" x2="564.5" y2="670.7" stroke="#222" stroke-width="0.9" />
<text x="566.5" y="674.7" font-size="4.6" font-weight="bold" text-anchor="end" letter-spacing="0.42" fill="#111" font-family="Liberation Sans" transform="rotate(-45 566.5 674.7)" stroke="#111" stroke-width="0.12">Non-treatment</text>
<line x1="584.8" y1="668.3" x2="584.8" y2="670.7" stroke="#222" stroke-width="0.9" />
<text x="586.8" y="674.7" font-size="4.6" font-weight="bold" text-anchor="end" letter-spacing="0.42" fill="#111" font-family="Liberation Sans" transform="rotate(-45 586.8 674.7)" stroke="#111" stroke-width="0.12">200 µg/ml</text>
<line x1="605.1" y1="668.3" x2="605.1" y2="670.7" stroke="#222" stroke-width="0.9" />
<text x="607.1" y="674.7" font-size="4.6" font-weight="bold" text-anchor="end" letter-spacing="0.42" fill="#111" font-family="Liberation Sans" transform="rotate(-45 607.1 674.7)" stroke="#111" stroke-width="0.12">400 µg/ml</text>
<line x1="625.4" y1="668.3" x2="625.4" y2="670.7" stroke="#222" stroke-width="0.9" />
<text x="627.4" y="674.7" font-size="4.6" font-weight="bold" text-anchor="end" letter-spacing="0.42" fill="#111" font-family="Liberation Sans" transform="rotate(-45 627.4 674.7)" stroke="#111" stroke-width="0.12">800 µg/ml</text>
<line x1="645.7" y1="668.3" x2="645.7" y2="670.7" stroke="#222" stroke-width="0.9" />
<text x="647.7" y="674.7" font-size="4.6" font-weight="bold" text-anchor="end" letter-spacing="0.42" fill="#111" font-family="Liberation Sans" transform="rotate(-45 647.7 674.7)" stroke="#111" stroke-width="0.12">Betamethasone</text>
<line x1="666.0" y1="668.3" x2="666.0" y2="670.7" stroke="#222" stroke-width="0.9" />
<text x="668.0" y="674.7" font-size="4.6" font-weight="bold" text-anchor="end" letter-spacing="0.42" fill="#111" font-family="Liberation Sans" transform="rotate(-45 668.0 674.7)" stroke="#111" stroke-width="0.12">Calcitriol (D3)</text>
<polyline points="558.8,700.1 558.8,701.3 613.4,701.3 613.4,700.1" fill="none" stroke="#666" stroke-width="0.8"/>
<text x="585.2" y="707.9" font-size="4.6" font-weight="bold" text-anchor="middle" letter-spacing="0.28" fill="#111" font-family="Liberation Sans" stroke="#111" stroke-width="0.12">Extraction</text>
<text x="538.1" y="672.8" font-size="10.8" font-weight="normal" text-anchor="middle" letter-spacing="0.6" fill="#111" font-family="Liberation Sans">iv</text>
<text x="585.1" y="657.8" font-size="6.2" font-weight="bold" text-anchor="middle" letter-spacing="0.8" fill="#222" font-family="Liberation Sans" stroke="#222" stroke-width="0.12">***</text>
<text x="605.5" y="657.8" font-size="6.2" font-weight="bold" text-anchor="middle" letter-spacing="0.8" fill="#222" font-family="Liberation Sans" stroke="#222" stroke-width="0.12">***</text>
<text x="625.8" y="657.8" font-size="6.2" font-weight="bold" text-anchor="middle" letter-spacing="0.8" fill="#222" font-family="Liberation Sans" stroke="#222" stroke-width="0.12">***</text>
<polyline points="604.3,644.3 604.3,588.5 644.0,588.5 644.0,593.4" fill="none" stroke="#9d9d9d" stroke-width="0.9"/>
<polyline points="646.0,588.5 664.6,588.5 664.6,645.5" fill="none" stroke="#9d9d9d" stroke-width="0.9"/>
<text x="623.9" y="588.3" font-size="6.2" font-weight="bold" text-anchor="middle" letter-spacing="0.8" fill="#222" font-family="Liberation Sans" stroke="#222" stroke-width="0.12">****</text>
<text x="655.4" y="589.1" font-size="6.2" font-weight="bold" text-anchor="middle" letter-spacing="0.8" fill="#222" font-family="Liberation Sans" stroke="#222" stroke-width="0.12">****</text>
<line x1="625.4" y1="579.3" x2="665.1" y2="579.3" stroke="#9d9d9d" stroke-width="0.9" />
<text x="644.4" y="578.4" font-size="6.2" font-weight="bold" text-anchor="middle" letter-spacing="0.8" fill="#222" font-family="Liberation Sans" stroke="#222" stroke-width="0.12">***</text>
<text x="645.9" y="600.3" font-size="6.2" font-weight="bold" text-anchor="middle" letter-spacing="0.8" fill="#222" font-family="Liberation Sans" stroke="#222" stroke-width="0.12">****</text>
<line x1="52.9" y1="739.3" x2="52.9" y2="805.3" stroke="#333" stroke-width="1.1" />
<line x1="50.5" y1="805.0" x2="52.9" y2="805.0" stroke="#222" stroke-width="0.9" />
<text x="49.9" y="807.2" font-size="4.6" font-weight="bold" text-anchor="end" letter-spacing="0.4" fill="#111" font-family="Liberation Sans" stroke="#111" stroke-width="0.12">0</text>
<line x1="50.5" y1="788.6" x2="52.9" y2="788.6" stroke="#222" stroke-width="0.9" />
<text x="49.9" y="790.8" font-size="4.6" font-weight="bold" text-anchor="end" letter-spacing="0.4" fill="#111" font-family="Liberation Sans" stroke="#111" stroke-width="0.12">1</text>
<line x1="50.5" y1="772.1" x2="52.9" y2="772.1" stroke="#222" stroke-width="0.9" />
<text x="49.9" y="774.4" font-size="4.6" font-weight="bold" text-anchor="end" letter-spacing="0.4" fill="#111" font-family="Liberation Sans" stroke="#111" stroke-width="0.12">2</text>
<line x1="50.5" y1="755.7" x2="52.9" y2="755.7" stroke="#222" stroke-width="0.9" />
<text x="49.9" y="757.9" font-size="4.6" font-weight="bold" text-anchor="end" letter-spacing="0.4" fill="#111" font-family="Liberation Sans" stroke="#111" stroke-width="0.12">3</text>
<line x1="50.5" y1="739.3" x2="52.9" y2="739.3" stroke="#222" stroke-width="0.9" />
<text x="49.9" y="741.5" font-size="4.6" font-weight="bold" text-anchor="end" letter-spacing="0.4" fill="#111" font-family="Liberation Sans" stroke="#111" stroke-width="0.12">4</text>
<text x="43.5" y="772.4" font-size="4.9" font-weight="bold" text-anchor="middle" letter-spacing="0.5" fill="#111" font-family="Liberation Sans" transform="rotate(-90 43.5 772.4)" stroke="#111" stroke-width="0.12">IL-2&#160;&#160;(pg/ml)</text>
<rect x="63.4" y="787.3" width="14.5" height="17.7" fill="#050505" stroke="none" stroke-width="1.0"/>
<rect x="83.7" y="804.1" width="14.5" height="0.9" fill="#9b9b9b" stroke="none" stroke-width="1.0"/>
<rect x="104.0" y="799.7" width="14.5" height="5.3" fill="#8e8e8e" stroke="none" stroke-width="1.0"/>
<line x1="111.2" y1="799.7" x2="111.2" y2="793.8" stroke="#3a3a3a" stroke-width="1.2" />
<line x1="108.2" y1="793.8" x2="114.2" y2="793.8" stroke="#3a3a3a" stroke-width="1.2" />
<rect x="124.3" y="804.1" width="14.5" height="0.9" fill="#dcdcdc" stroke="none" stroke-width="1.0"/>
<rect x="144.6" y="751.1" width="14.5" height="53.9" fill="#737373" stroke="none" stroke-width="1.0"/>
<rect x="164.9" y="790.9" width="14.5" height="14.1" fill="#a1a1a5" stroke="none" stroke-width="1.0"/>
<line x1="172.2" y1="790.9" x2="172.2" y2="784.6" stroke="#3a3a3a" stroke-width="1.2" />
<line x1="169.2" y1="784.6" x2="175.2" y2="784.6" stroke="#3a3a3a" stroke-width="1.2" />
<line x1="60.1" y1="811.6" x2="182.4" y2="811.6" stroke="#3a3a3a" stroke-width="1.1" />
<line x1="70.7" y1="811.6" x2="70.7" y2="814.0" stroke="#222" stroke-width="0.9" />
<text x="72.7" y="818.0" font-size="4.6" font-weight="bold" text-anchor="end" letter-spacing="0.42" fill="#111" font-family="Liberation Sans" transform="rotate(-45 72.7 818.0)" stroke="#111" stroke-width="0.12">Non-treatment</text>
<line x1="91.0" y1="811.6" x2="91.0" y2="814.0" stroke="#222" stroke-width="0.9" />
<text x="93.0" y="818.0" font-size="4.6" font-weight="bold" text-anchor="end" letter-spacing="0.42" fill="#111" font-family="Liberation Sans" transform="rotate(-45 93.0 818.0)" stroke="#111" stroke-width="0.12">200 µg/ml</text>
<line x1="111.2" y1="811.6" x2="111.2" y2="814.0" stroke="#222" stroke-width="0.9" />
<text x="113.2" y="818.0" font-size="4.6" font-weight="bold" text-anchor="end" letter-spacing="0.42" fill="#111" font-family="Liberation Sans" transform="rotate(-45 113.2 818.0)" stroke="#111" stroke-width="0.12">400 µg/ml</text>
<line x1="131.6" y1="811.6" x2="131.6" y2="814.0" stroke="#222" stroke-width="0.9" />
<text x="133.6" y="818.0" font-size="4.6" font-weight="bold" text-anchor="end" letter-spacing="0.42" fill="#111" font-family="Liberation Sans" transform="rotate(-45 133.6 818.0)" stroke="#111" stroke-width="0.12">800 µg/ml</text>
<line x1="151.8" y1="811.6" x2="151.8" y2="814.0" stroke="#222" stroke-width="0.9" />
<text x="153.8" y="818.0" font-size="4.6" font-weight="bold" text-anchor="end" letter-spacing="0.42" fill="#111" font-family="Liberation Sans" transform="rotate(-45 153.8 818.0)" stroke="#111" stroke-width="0.12">Betamethasone</text>
<line x1="172.2" y1="811.6" x2="172.2" y2="814.0" stroke="#222" stroke-width="0.9" />
<text x="174.2" y="818.0" font-size="4.6" font-weight="bold" text-anchor="end" letter-spacing="0.42" fill="#111" font-family="Liberation Sans" transform="rotate(-45 174.2 818.0)" stroke="#111" stroke-width="0.12">Calcitriol (D3)</text>
<polyline points="65.0,843.4 65.0,844.6 119.6,844.6 119.6,843.4" fill="none" stroke="#666" stroke-width="0.8"/>
<text x="91.5" y="851.2" font-size="4.6" font-weight="bold" text-anchor="middle" letter-spacing="0.28" fill="#111" font-family="Liberation Sans" stroke="#111" stroke-width="0.12">Extraction</text>
<text x="39.9" y="818.7" font-size="10.8" font-weight="normal" text-anchor="middle" letter-spacing="0.6" fill="#111" font-family="Liberation Sans">v</text>
<text x="91.4" y="801.6" font-size="6.2" font-weight="bold" text-anchor="middle" letter-spacing="0.8" fill="#222" font-family="Liberation Sans" stroke="#222" stroke-width="0.12">*</text>
<text x="132.0" y="801.6" font-size="6.2" font-weight="bold" text-anchor="middle" letter-spacing="0.8" fill="#222" font-family="Liberation Sans" stroke="#222" stroke-width="0.12">*</text>
<line x1="84.0" y1="786.9" x2="136.1" y2="786.9" stroke="#c8c8c8" stroke-width="1.3" />
<polyline points="110.6,786.9 110.6,736.0 171.9,736.0 171.9,784.4" fill="none" stroke="#9d9d9d" stroke-width="0.9"/>
<line x1="151.5" y1="736.0" x2="151.5" y2="739.0" stroke="#9d9d9d" stroke-width="0.9" />
<text x="132.8" y="736.6" font-size="6.2" font-weight="bold" text-anchor="middle" letter-spacing="0.8" fill="#222" font-family="Liberation Sans" stroke="#222" stroke-width="0.12">****</text>
<text x="162.4" y="736.6" font-size="6.2" font-weight="bold" text-anchor="middle" letter-spacing="0.8" fill="#222" font-family="Liberation Sans" stroke="#222" stroke-width="0.12">***</text>
<text x="151.9" y="748.3" font-size="6.2" font-weight="bold" text-anchor="middle" letter-spacing="0.8" fill="#222" font-family="Liberation Sans" stroke="#222" stroke-width="0.12">***</text>
<line x1="217.2" y1="739.3" x2="217.2" y2="805.3" stroke="#333" stroke-width="1.1" />
<line x1="214.8" y1="805.0" x2="217.2" y2="805.0" stroke="#222" stroke-width="0.9" />
<text x="214.2" y="807.2" font-size="4.6" font-weight="bold" text-anchor="end" letter-spacing="0.4" fill="#111" font-family="Liberation Sans" stroke="#111" stroke-width="0.12">0</text>
<line x1="214.8" y1="788.6" x2="217.2" y2="788.6" stroke="#222" stroke-width="0.9" />
<text x="214.2" y="790.8" font-size="4.6" font-weight="bold" text-anchor="end" letter-spacing="0.4" fill="#111" font-family="Liberation Sans" stroke="#111" stroke-width="0.12">1</text>
<line x1="214.8" y1="772.1" x2="217.2" y2="772.1" stroke="#222" stroke-width="0.9" />
<text x="214.2" y="774.4" font-size="4.6" font-weight="bold" text-anchor="end" letter-spacing="0.4" fill="#111" font-family="Liberation Sans" stroke="#111" stroke-width="0.12">2</text>
<line x1="214.8" y1="755.7" x2="217.2" y2="755.7" stroke="#222" stroke-width="0.9" />
<text x="214.2" y="757.9" font-size="4.6" font-weight="bold" text-anchor="end" letter-spacing="0.4" fill="#111" font-family="Liberation Sans" stroke="#111" stroke-width="0.12">3</text>
<line x1="214.8" y1="739.3" x2="217.2" y2="739.3" stroke="#222" stroke-width="0.9" />
<text x="214.2" y="741.5" font-size="4.6" font-weight="bold" text-anchor="end" letter-spacing="0.4" fill="#111" font-family="Liberation Sans" stroke="#111" stroke-width="0.12">4</text>
<text x="208.2" y="772.4" font-size="4.9" font-weight="bold" text-anchor="middle" letter-spacing="0.5" fill="#111" font-family="Liberation Sans" transform="rotate(-90 208.2 772.4)" stroke="#111" stroke-width="0.12">IL-4&#160;&#160;(pg/ml)</text>
<rect x="227.9" y="758.4" width="14.5" height="46.6" fill="#050505" stroke="none" stroke-width="1.0"/>
<line x1="235.2" y1="758.4" x2="235.2" y2="757.7" stroke="#111" stroke-width="1.2" />
<line x1="232.2" y1="757.7" x2="238.2" y2="757.7" stroke="#111" stroke-width="1.2" />
<rect x="248.2" y="804.1" width="14.5" height="0.9" fill="#9b9b9b" stroke="none" stroke-width="1.0"/>
<rect x="268.5" y="804.1" width="14.5" height="0.9" fill="#8e8e8e" stroke="none" stroke-width="1.0"/>
<rect x="288.8" y="804.1" width="14.5" height="0.9" fill="#dcdcdc" stroke="none" stroke-width="1.0"/>
<rect x="309.1" y="763.6" width="14.5" height="41.4" fill="#737373" stroke="none" stroke-width="1.0"/>
<rect x="329.4" y="786.3" width="14.5" height="18.7" fill="#a1a1a5" stroke="none" stroke-width="1.0"/>
<line x1="336.6" y1="786.3" x2="336.6" y2="785.9" stroke="#3a3a3a" stroke-width="1.2" />
<line x1="333.6" y1="785.9" x2="339.6" y2="785.9" stroke="#3a3a3a" stroke-width="1.2" />
<line x1="224.4" y1="811.6" x2="346.9" y2="811.6" stroke="#3a3a3a" stroke-width="1.1" />
<line x1="235.2" y1="811.6" x2="235.2" y2="814.0" stroke="#222" stroke-width="0.9" />
<text x="237.2" y="818.0" font-size="4.6" font-weight="bold" text-anchor="end" letter-spacing="0.42" fill="#111" font-family="Liberation Sans" transform="rotate(-45 237.2 818.0)" stroke="#111" stroke-width="0.12">Non-treatment</text>
<line x1="255.5" y1="811.6" x2="255.5" y2="814.0" stroke="#222" stroke-width="0.9" />
<text x="257.5" y="818.0" font-size="4.6" font-weight="bold" text-anchor="end" letter-spacing="0.42" fill="#111" font-family="Liberation Sans" transform="rotate(-45 257.5 818.0)" stroke="#111" stroke-width="0.12">200 µg/ml</text>
<line x1="275.8" y1="811.6" x2="275.8" y2="814.0" stroke="#222" stroke-width="0.9" />
<text x="277.8" y="818.0" font-size="4.6" font-weight="bold" text-anchor="end" letter-spacing="0.42" fill="#111" font-family="Liberation Sans" transform="rotate(-45 277.8 818.0)" stroke="#111" stroke-width="0.12">400 µg/ml</text>
<line x1="296.1" y1="811.6" x2="296.1" y2="814.0" stroke="#222" stroke-width="0.9" />
<text x="298.1" y="818.0" font-size="4.6" font-weight="bold" text-anchor="end" letter-spacing="0.42" fill="#111" font-family="Liberation Sans" transform="rotate(-45 298.1 818.0)" stroke="#111" stroke-width="0.12">800 µg/ml</text>
<line x1="316.4" y1="811.6" x2="316.4" y2="814.0" stroke="#222" stroke-width="0.9" />
<text x="318.4" y="818.0" font-size="4.6" font-weight="bold" text-anchor="end" letter-spacing="0.42" fill="#111" font-family="Liberation Sans" transform="rotate(-45 318.4 818.0)" stroke="#111" stroke-width="0.12">Betamethasone</text>
<line x1="336.6" y1="811.6" x2="336.6" y2="814.0" stroke="#222" stroke-width="0.9" />
<text x="338.6" y="818.0" font-size="4.6" font-weight="bold" text-anchor="end" letter-spacing="0.42" fill="#111" font-family="Liberation Sans" transform="rotate(-45 338.6 818.0)" stroke="#111" stroke-width="0.12">Calcitriol (D3)</text>
<polyline points="229.5,843.4 229.5,844.6 284.1,844.6 284.1,843.4" fill="none" stroke="#666" stroke-width="0.8"/>
<text x="256.0" y="851.2" font-size="4.6" font-weight="bold" text-anchor="middle" letter-spacing="0.28" fill="#111" font-family="Liberation Sans" stroke="#111" stroke-width="0.12">Extraction</text>
<text x="203.1" y="818.7" font-size="10.8" font-weight="normal" text-anchor="middle" letter-spacing="0.6" fill="#111" font-family="Liberation Sans">vi</text>
<text x="255.9" y="800.9" font-size="6.2" font-weight="bold" text-anchor="middle" letter-spacing="0.8" fill="#222" font-family="Liberation Sans" stroke="#222" stroke-width="0.12">****</text>
<text x="276.1" y="800.9" font-size="6.2" font-weight="bold" text-anchor="middle" letter-spacing="0.8" fill="#222" font-family="Liberation Sans" stroke="#222" stroke-width="0.12">****</text>
<text x="296.4" y="800.9" font-size="6.2" font-weight="bold" text-anchor="middle" letter-spacing="0.8" fill="#222" font-family="Liberation Sans" stroke="#222" stroke-width="0.12">****</text>
<text x="316.8" y="761.5" font-size="6.2" font-weight="bold" text-anchor="middle" letter-spacing="0.8" fill="#222" font-family="Liberation Sans" stroke="#222" stroke-width="0.12">**</text>
<text x="337.0" y="782.6" font-size="6.2" font-weight="bold" text-anchor="middle" letter-spacing="0.8" fill="#222" font-family="Liberation Sans" stroke="#222" stroke-width="0.12">****</text>
<line x1="249.0" y1="787.0" x2="301.0" y2="787.0" stroke="#c8c8c8" stroke-width="1.3" />
<polyline points="273.0,787.0 273.0,738.5 339.6,738.5 339.6,774.5" fill="none" stroke="#9d9d9d" stroke-width="0.9"/>
<polyline points="274.3,787.0 274.3,749.0 336.3,749.0 336.3,774.5" fill="none" stroke="#9d9d9d" stroke-width="0.9"/>
<line x1="316.0" y1="749.0" x2="316.0" y2="752.0" stroke="#9d9d9d" stroke-width="0.9" />
<text x="305.9" y="737.9" font-size="6.2" font-weight="bold" text-anchor="middle" letter-spacing="0.8" fill="#222" font-family="Liberation Sans" stroke="#222" stroke-width="0.12">****</text>
<text x="294.4" y="749.1" font-size="6.2" font-weight="bold" text-anchor="middle" letter-spacing="0.8" fill="#222" font-family="Liberation Sans" stroke="#222" stroke-width="0.12">****</text>
<text x="326.4" y="749.1" font-size="6.2" font-weight="bold" text-anchor="middle" letter-spacing="0.8" fill="#222" font-family="Liberation Sans" stroke="#222" stroke-width="0.12">****</text>
<line x1="382.1" y1="739.3" x2="382.1" y2="805.3" stroke="#333" stroke-width="1.1" />
<line x1="379.7" y1="805.0" x2="382.1" y2="805.0" stroke="#222" stroke-width="0.9" />
<text x="379.1" y="807.2" font-size="4.6" font-weight="bold" text-anchor="end" letter-spacing="0.4" fill="#111" font-family="Liberation Sans" stroke="#111" stroke-width="0.12">0</text>
<line x1="379.7" y1="783.1" x2="382.1" y2="783.1" stroke="#222" stroke-width="0.9" />
<text x="379.1" y="785.3" font-size="4.6" font-weight="bold" text-anchor="end" letter-spacing="0.4" fill="#111" font-family="Liberation Sans" stroke="#111" stroke-width="0.12">500</text>
<line x1="379.7" y1="761.2" x2="382.1" y2="761.2" stroke="#222" stroke-width="0.9" />
<text x="379.1" y="763.4" font-size="4.6" font-weight="bold" text-anchor="end" letter-spacing="0.4" fill="#111" font-family="Liberation Sans" stroke="#111" stroke-width="0.12">1000</text>
<line x1="379.7" y1="739.3" x2="382.1" y2="739.3" stroke="#222" stroke-width="0.9" />
<text x="379.1" y="741.5" font-size="4.6" font-weight="bold" text-anchor="end" letter-spacing="0.4" fill="#111" font-family="Liberation Sans" stroke="#111" stroke-width="0.12">1500</text>
<text x="364.7" y="772.4" font-size="4.9" font-weight="bold" text-anchor="middle" letter-spacing="0.5" fill="#111" font-family="Liberation Sans" transform="rotate(-90 364.7 772.4)" stroke="#111" stroke-width="0.12">IL-6&#160;&#160;(pg/ml)</text>
<rect x="392.1" y="747.5" width="14.5" height="57.5" fill="#050505" stroke="none" stroke-width="1.0"/>
<line x1="399.4" y1="747.5" x2="399.4" y2="746.5" stroke="#111" stroke-width="1.2" />
<line x1="396.4" y1="746.5" x2="402.4" y2="746.5" stroke="#111" stroke-width="1.2" />
<rect x="412.4" y="804.1" width="14.5" height="0.9" fill="#9b9b9b" stroke="none" stroke-width="1.0"/>
<rect x="432.7" y="804.1" width="14.5" height="0.9" fill="#8e8e8e" stroke="none" stroke-width="1.0"/>
<rect x="453.0" y="804.1" width="14.5" height="0.9" fill="#dcdcdc" stroke="none" stroke-width="1.0"/>
<rect x="473.3" y="776.7" width="14.5" height="28.3" fill="#737373" stroke="none" stroke-width="1.0"/>
<line x1="480.6" y1="776.7" x2="480.6" y2="774.8" stroke="#3a3a3a" stroke-width="1.2" />
<line x1="477.6" y1="774.8" x2="483.6" y2="774.8" stroke="#3a3a3a" stroke-width="1.2" />
<rect x="493.6" y="789.2" width="14.5" height="15.8" fill="#a1a1a5" stroke="none" stroke-width="1.0"/>
<line x1="500.9" y1="789.2" x2="500.9" y2="788.9" stroke="#3a3a3a" stroke-width="1.2" />
<line x1="497.9" y1="788.9" x2="503.9" y2="788.9" stroke="#3a3a3a" stroke-width="1.2" />
<line x1="389.3" y1="811.6" x2="511.1" y2="811.6" stroke="#3a3a3a" stroke-width="1.1" />
<line x1="399.4" y1="811.6" x2="399.4" y2="814.0" stroke="#222" stroke-width="0.9" />
<text x="401.4" y="818.0" font-size="4.6" font-weight="bold" text-anchor="end" letter-spacing="0.42" fill="#111" font-family="Liberation Sans" transform="rotate(-45 401.4 818.0)" stroke="#111" stroke-width="0.12">Non-treatment</text>
<line x1="419.7" y1="811.6" x2="419.7" y2="814.0" stroke="#222" stroke-width="0.9" />
<text x="421.7" y="818.0" font-size="4.6" font-weight="bold" text-anchor="end" letter-spacing="0.42" fill="#111" font-family="Liberation Sans" transform="rotate(-45 421.7 818.0)" stroke="#111" stroke-width="0.12">200 µg/ml</text>
<line x1="440.0" y1="811.6" x2="440.0" y2="814.0" stroke="#222" stroke-width="0.9" />
<text x="442.0" y="818.0" font-size="4.6" font-weight="bold" text-anchor="end" letter-spacing="0.42" fill="#111" font-family="Liberation Sans" transform="rotate(-45 442.0 818.0)" stroke="#111" stroke-width="0.12">400 µg/ml</text>
<line x1="460.2" y1="811.6" x2="460.2" y2="814.0" stroke="#222" stroke-width="0.9" />
<text x="462.2" y="818.0" font-size="4.6" font-weight="bold" text-anchor="end" letter-spacing="0.42" fill="#111" font-family="Liberation Sans" transform="rotate(-45 462.2 818.0)" stroke="#111" stroke-width="0.12">800 µg/ml</text>
<line x1="480.6" y1="811.6" x2="480.6" y2="814.0" stroke="#222" stroke-width="0.9" />
<text x="482.6" y="818.0" font-size="4.6" font-weight="bold" text-anchor="end" letter-spacing="0.42" fill="#111" font-family="Liberation Sans" transform="rotate(-45 482.6 818.0)" stroke="#111" stroke-width="0.12">Betamethasone</text>
<line x1="500.9" y1="811.6" x2="500.9" y2="814.0" stroke="#222" stroke-width="0.9" />
<text x="502.9" y="818.0" font-size="4.6" font-weight="bold" text-anchor="end" letter-spacing="0.42" fill="#111" font-family="Liberation Sans" transform="rotate(-45 502.9 818.0)" stroke="#111" stroke-width="0.12">Calcitriol (D3)</text>
<polyline points="393.7,843.4 393.7,844.6 448.2,844.6 448.2,843.4" fill="none" stroke="#666" stroke-width="0.8"/>
<text x="420.2" y="851.2" font-size="4.6" font-weight="bold" text-anchor="middle" letter-spacing="0.28" fill="#111" font-family="Liberation Sans" stroke="#111" stroke-width="0.12">Extraction</text>
<text x="366.8" y="818.7" font-size="10.8" font-weight="normal" text-anchor="middle" letter-spacing="0.6" fill="#111" font-family="Liberation Sans">vii</text>
<text x="420.1" y="800.4" font-size="6.2" font-weight="bold" text-anchor="middle" letter-spacing="0.8" fill="#222" font-family="Liberation Sans" stroke="#222" stroke-width="0.12">****</text>
<text x="440.4" y="800.4" font-size="6.2" font-weight="bold" text-anchor="middle" letter-spacing="0.8" fill="#222" font-family="Liberation Sans" stroke="#222" stroke-width="0.12">****</text>
<text x="460.6" y="800.4" font-size="6.2" font-weight="bold" text-anchor="middle" letter-spacing="0.8" fill="#222" font-family="Liberation Sans" stroke="#222" stroke-width="0.12">****</text>
<text x="480.9" y="772.4" font-size="6.2" font-weight="bold" text-anchor="middle" letter-spacing="0.8" fill="#222" font-family="Liberation Sans" stroke="#222" stroke-width="0.12">****</text>
<text x="501.2" y="786.3" font-size="6.2" font-weight="bold" text-anchor="middle" letter-spacing="0.8" fill="#222" font-family="Liberation Sans" stroke="#222" stroke-width="0.12">****</text>
<line x1="415.0" y1="789.4" x2="464.6" y2="789.4" stroke="#b8b8b8" stroke-width="1.0" />
<polyline points="439.3,789.4 439.3,745.5 493.1,745.5 493.1,749.7" fill="none" stroke="#9d9d9d" stroke-width="0.9"/>
<line x1="483.2" y1="749.7" x2="501.3" y2="749.7" stroke="#9d9d9d" stroke-width="0.9" />
<polyline points="482.5,760.4 499.8,760.4 499.8,775.8" fill="none" stroke="#9d9d9d" stroke-width="0.9"/>
<line x1="482.5" y1="760.4" x2="482.5" y2="763.0" stroke="#9d9d9d" stroke-width="0.9" />
<text x="468.4" y="745.4" font-size="6.2" font-weight="bold" text-anchor="middle" letter-spacing="0.8" fill="#222" font-family="Liberation Sans" stroke="#222" stroke-width="0.12">****</text>
<text x="492.4" y="759.5" font-size="6.2" font-weight="bold" text-anchor="middle" letter-spacing="0.8" fill="#222" font-family="Liberation Sans" stroke="#222" stroke-width="0.12">***</text>
<line x1="546.6" y1="739.3" x2="546.6" y2="805.3" stroke="#333" stroke-width="1.1" />
<line x1="544.2" y1="805.0" x2="546.6" y2="805.0" stroke="#222" stroke-width="0.9" />
<text x="543.6" y="807.2" font-size="4.6" font-weight="bold" text-anchor="end" letter-spacing="0.4" fill="#111" font-family="Liberation Sans" stroke="#111" stroke-width="0.12">0</text>
<line x1="544.2" y1="788.6" x2="546.6" y2="788.6" stroke="#222" stroke-width="0.9" />
<text x="543.6" y="790.8" font-size="4.6" font-weight="bold" text-anchor="end" letter-spacing="0.4" fill="#111" font-family="Liberation Sans" stroke="#111" stroke-width="0.12">2000</text>
<line x1="544.2" y1="772.1" x2="546.6" y2="772.1" stroke="#222" stroke-width="0.9" />
<text x="543.6" y="774.4" font-size="4.6" font-weight="bold" text-anchor="end" letter-spacing="0.4" fill="#111" font-family="Liberation Sans" stroke="#111" stroke-width="0.12">4000</text>
<line x1="544.2" y1="755.7" x2="546.6" y2="755.7" stroke="#222" stroke-width="0.9" />
<text x="543.6" y="757.9" font-size="4.6" font-weight="bold" text-anchor="end" letter-spacing="0.4" fill="#111" font-family="Liberation Sans" stroke="#111" stroke-width="0.12">6000</text>
<line x1="544.2" y1="739.3" x2="546.6" y2="739.3" stroke="#222" stroke-width="0.9" />
<text x="543.6" y="741.5" font-size="4.6" font-weight="bold" text-anchor="end" letter-spacing="0.4" fill="#111" font-family="Liberation Sans" stroke="#111" stroke-width="0.12">8000</text>
<text x="528.5" y="772.4" font-size="4.9" font-weight="bold" text-anchor="middle" letter-spacing="0.5" fill="#111" font-family="Liberation Sans" transform="rotate(-90 528.5 772.4)" stroke="#111" stroke-width="0.12">IL-8&#160;&#160;(pg/ml)</text>
<rect x="556.7" y="758.7" width="14.5" height="46.3" fill="#050505" stroke="none" stroke-width="1.0"/>
<line x1="564.0" y1="758.7" x2="564.0" y2="755.7" stroke="#111" stroke-width="1.2" />
<line x1="561.0" y1="755.7" x2="567.0" y2="755.7" stroke="#111" stroke-width="1.2" />
<rect x="577.0" y="804.1" width="14.5" height="0.9" fill="#9b9b9b" stroke="none" stroke-width="1.0"/>
<rect x="597.3" y="804.1" width="14.5" height="0.9" fill="#8e8e8e" stroke="none" stroke-width="1.0"/>
<rect x="617.6" y="804.1" width="14.5" height="0.9" fill="#dcdcdc" stroke="none" stroke-width="1.0"/>
<rect x="637.9" y="774.8" width="14.5" height="30.2" fill="#737373" stroke="none" stroke-width="1.0"/>
<line x1="645.2" y1="774.8" x2="645.2" y2="770.8" stroke="#3a3a3a" stroke-width="1.2" />
<line x1="642.2" y1="770.8" x2="648.2" y2="770.8" stroke="#3a3a3a" stroke-width="1.2" />
<rect x="658.2" y="794.2" width="14.5" height="10.8" fill="#a1a1a5" stroke="none" stroke-width="1.0"/>
<line x1="665.5" y1="794.2" x2="665.5" y2="793.8" stroke="#3a3a3a" stroke-width="1.2" />
<line x1="662.5" y1="793.8" x2="668.5" y2="793.8" stroke="#3a3a3a" stroke-width="1.2" />
<line x1="553.8" y1="811.6" x2="675.7" y2="811.6" stroke="#3a3a3a" stroke-width="1.1" />
<line x1="564.0" y1="811.6" x2="564.0" y2="814.0" stroke="#222" stroke-width="0.9" />
<text x="566.0" y="818.0" font-size="4.6" font-weight="bold" text-anchor="end" letter-spacing="0.42" fill="#111" font-family="Liberation Sans" transform="rotate(-45 566.0 818.0)" stroke="#111" stroke-width="0.12">Non-treatment</text>
<line x1="584.2" y1="811.6" x2="584.2" y2="814.0" stroke="#222" stroke-width="0.9" />
<text x="586.2" y="818.0" font-size="4.6" font-weight="bold" text-anchor="end" letter-spacing="0.42" fill="#111" font-family="Liberation Sans" transform="rotate(-45 586.2 818.0)" stroke="#111" stroke-width="0.12">200 µg/ml</text>
<line x1="604.6" y1="811.6" x2="604.6" y2="814.0" stroke="#222" stroke-width="0.9" />
<text x="606.6" y="818.0" font-size="4.6" font-weight="bold" text-anchor="end" letter-spacing="0.42" fill="#111" font-family="Liberation Sans" transform="rotate(-45 606.6 818.0)" stroke="#111" stroke-width="0.12">400 µg/ml</text>
<line x1="624.9" y1="811.6" x2="624.9" y2="814.0" stroke="#222" stroke-width="0.9" />
<text x="626.9" y="818.0" font-size="4.6" font-weight="bold" text-anchor="end" letter-spacing="0.42" fill="#111" font-family="Liberation Sans" transform="rotate(-45 626.9 818.0)" stroke="#111" stroke-width="0.12">800 µg/ml</text>
<line x1="645.2" y1="811.6" x2="645.2" y2="814.0" stroke="#222" stroke-width="0.9" />
<text x="647.2" y="818.0" font-size="4.6" font-weight="bold" text-anchor="end" letter-spacing="0.42" fill="#111" font-family="Liberation Sans" transform="rotate(-45 647.2 818.0)" stroke="#111" stroke-width="0.12">Betamethasone</text>
<line x1="665.5" y1="811.6" x2="665.5" y2="814.0" stroke="#222" stroke-width="0.9" />
<text x="667.5" y="818.0" font-size="4.6" font-weight="bold" text-anchor="end" letter-spacing="0.42" fill="#111" font-family="Liberation Sans" transform="rotate(-45 667.5 818.0)" stroke="#111" stroke-width="0.12">Calcitriol (D3)</text>
<polyline points="558.2,843.4 558.2,844.6 612.9,844.6 612.9,843.4" fill="none" stroke="#666" stroke-width="0.8"/>
<text x="584.8" y="851.2" font-size="4.6" font-weight="bold" text-anchor="middle" letter-spacing="0.28" fill="#111" font-family="Liberation Sans" stroke="#111" stroke-width="0.12">Extraction</text>
<text x="529.2" y="817.8" font-size="10.8" font-weight="normal" text-anchor="middle" letter-spacing="0.6" fill="#111" font-family="Liberation Sans">viii</text>
<text x="584.6" y="800.4" font-size="6.2" font-weight="bold" text-anchor="middle" letter-spacing="0.8" fill="#222" font-family="Liberation Sans" stroke="#222" stroke-width="0.12">****</text>
<text x="605.0" y="800.4" font-size="6.2" font-weight="bold" text-anchor="middle" letter-spacing="0.8" fill="#222" font-family="Liberation Sans" stroke="#222" stroke-width="0.12">****</text>
<text x="625.2" y="800.4" font-size="6.2" font-weight="bold" text-anchor="middle" letter-spacing="0.8" fill="#222" font-family="Liberation Sans" stroke="#222" stroke-width="0.12">****</text>
<text x="645.6" y="771.9" font-size="6.2" font-weight="bold" text-anchor="middle" letter-spacing="0.8" fill="#222" font-family="Liberation Sans" stroke="#222" stroke-width="0.12">**</text>
<text x="665.9" y="791.8" font-size="6.2" font-weight="bold" text-anchor="middle" letter-spacing="0.8" fill="#222" font-family="Liberation Sans" stroke="#222" stroke-width="0.12">****</text>
<line x1="579.0" y1="789.4" x2="628.6" y2="789.4" stroke="#c0c0c0" stroke-width="1.2" />
<polyline points="604.3,789.4 604.3,745.5 646.5,745.5 646.5,751.0" fill="none" stroke="#9d9d9d" stroke-width="0.9"/>
<polyline points="606.3,789.4 606.3,754.2 666.4,754.2 666.4,788.2" fill="none" stroke="#9d9d9d" stroke-width="0.9"/>
<polyline points="646.5,763.0 646.5,760.4 663.9,760.4 663.9,788.2" fill="none" stroke="#9d9d9d" stroke-width="0.9"/>
<text x="632.4" y="745.4" font-size="6.2" font-weight="bold" text-anchor="middle" letter-spacing="0.8" fill="#222" font-family="Liberation Sans" stroke="#222" stroke-width="0.12">****</text>
<text x="636.4" y="754.6" font-size="6.2" font-weight="bold" text-anchor="middle" letter-spacing="0.8" fill="#222" font-family="Liberation Sans" stroke="#222" stroke-width="0.12">*</text>
<line x1="52.9" y1="875.0" x2="52.9" y2="941.1" stroke="#333" stroke-width="1.1" />
<line x1="50.5" y1="940.8" x2="52.9" y2="940.8" stroke="#222" stroke-width="0.9" />
<text x="49.9" y="943.0" font-size="4.6" font-weight="bold" text-anchor="end" letter-spacing="0.4" fill="#111" font-family="Liberation Sans" stroke="#111" stroke-width="0.12">0</text>
<line x1="50.5" y1="918.9" x2="52.9" y2="918.9" stroke="#222" stroke-width="0.9" />
<text x="49.9" y="921.1" font-size="4.6" font-weight="bold" text-anchor="end" letter-spacing="0.4" fill="#111" font-family="Liberation Sans" stroke="#111" stroke-width="0.12">1</text>
<line x1="50.5" y1="896.9" x2="52.9" y2="896.9" stroke="#222" stroke-width="0.9" />
<text x="49.9" y="899.1" font-size="4.6" font-weight="bold" text-anchor="end" letter-spacing="0.4" fill="#111" font-family="Liberation Sans" stroke="#111" stroke-width="0.12">2</text>
<line x1="50.5" y1="875.0" x2="52.9" y2="875.0" stroke="#222" stroke-width="0.9" />
<text x="49.9" y="877.2" font-size="4.6" font-weight="bold" text-anchor="end" letter-spacing="0.4" fill="#111" font-family="Liberation Sans" stroke="#111" stroke-width="0.12">3</text>
<text x="43.9" y="908.2" font-size="4.9" font-weight="bold" text-anchor="middle" letter-spacing="0.5" fill="#111" font-family="Liberation Sans" transform="rotate(-90 43.9 908.2)" stroke="#111" stroke-width="0.12">IL-10&#160;&#160;(pg/ml)</text>
<rect x="63.4" y="924.3" width="14.5" height="16.5" fill="#050505" stroke="none" stroke-width="1.0"/>
<line x1="70.7" y1="924.3" x2="70.7" y2="909.2" stroke="#111" stroke-width="1.2" />
<line x1="67.7" y1="909.2" x2="73.7" y2="909.2" stroke="#111" stroke-width="1.2" />
<rect x="83.7" y="932.2" width="14.5" height="8.6" fill="#9b9b9b" stroke="none" stroke-width="1.0"/>
<line x1="91.0" y1="932.2" x2="91.0" y2="920.4" stroke="#3a3a3a" stroke-width="1.2" />
<line x1="88.0" y1="920.4" x2="94.0" y2="920.4" stroke="#3a3a3a" stroke-width="1.2" />
<rect x="104.0" y="932.2" width="14.5" height="8.6" fill="#8e8e8e" stroke="none" stroke-width="1.0"/>
<line x1="111.2" y1="932.2" x2="111.2" y2="920.4" stroke="#3a3a3a" stroke-width="1.2" />
<line x1="108.2" y1="920.4" x2="114.2" y2="920.4" stroke="#3a3a3a" stroke-width="1.2" />
<rect x="124.3" y="937.2" width="14.5" height="3.6" fill="#dcdcdc" stroke="none" stroke-width="1.0"/>
<line x1="131.6" y1="937.2" x2="131.6" y2="933.9" stroke="#3a3a3a" stroke-width="1.2" />
<line x1="128.6" y1="933.9" x2="134.6" y2="933.9" stroke="#3a3a3a" stroke-width="1.2" />
<rect x="144.6" y="884.2" width="14.5" height="56.6" fill="#737373" stroke="none" stroke-width="1.0"/>
<rect x="164.9" y="924.0" width="14.5" height="16.8" fill="#a1a1a5" stroke="none" stroke-width="1.0"/>
<line x1="172.2" y1="924.0" x2="172.2" y2="923.7" stroke="#3a3a3a" stroke-width="1.2" />
<line x1="169.2" y1="923.7" x2="175.2" y2="923.7" stroke="#3a3a3a" stroke-width="1.2" />
<line x1="60.1" y1="947.4" x2="182.4" y2="947.4" stroke="#3a3a3a" stroke-width="1.1" />
<line x1="70.7" y1="947.4" x2="70.7" y2="949.8" stroke="#222" stroke-width="0.9" />
<text x="72.7" y="953.8" font-size="4.6" font-weight="bold" text-anchor="end" letter-spacing="0.42" fill="#111" font-family="Liberation Sans" transform="rotate(-45 72.7 953.8)" stroke="#111" stroke-width="0.12">Non-treatment</text>
<line x1="91.0" y1="947.4" x2="91.0" y2="949.8" stroke="#222" stroke-width="0.9" />
<text x="93.0" y="953.8" font-size="4.6" font-weight="bold" text-anchor="end" letter-spacing="0.42" fill="#111" font-family="Liberation Sans" transform="rotate(-45 93.0 953.8)" stroke="#111" stroke-width="0.12">200 µg/ml</text>
<line x1="111.2" y1="947.4" x2="111.2" y2="949.8" stroke="#222" stroke-width="0.9" />
<text x="113.2" y="953.8" font-size="4.6" font-weight="bold" text-anchor="end" letter-spacing="0.42" fill="#111" font-family="Liberation Sans" transform="rotate(-45 113.2 953.8)" stroke="#111" stroke-width="0.12">400 µg/ml</text>
<line x1="131.6" y1="947.4" x2="131.6" y2="949.8" stroke="#222" stroke-width="0.9" />
<text x="133.6" y="953.8" font-size="4.6" font-weight="bold" text-anchor="end" letter-spacing="0.42" fill="#111" font-family="Liberation Sans" transform="rotate(-45 133.6 953.8)" stroke="#111" stroke-width="0.12">800 µg/ml</text>
<line x1="151.8" y1="947.4" x2="151.8" y2="949.8" stroke="#222" stroke-width="0.9" />
<text x="153.8" y="953.8" font-size="4.6" font-weight="bold" text-anchor="end" letter-spacing="0.42" fill="#111" font-family="Liberation Sans" transform="rotate(-45 153.8 953.8)" stroke="#111" stroke-width="0.12">Betamethasone</text>
<line x1="172.2" y1="947.4" x2="172.2" y2="949.8" stroke="#222" stroke-width="0.9" />
<text x="174.2" y="953.8" font-size="4.6" font-weight="bold" text-anchor="end" letter-spacing="0.42" fill="#111" font-family="Liberation Sans" transform="rotate(-45 174.2 953.8)" stroke="#111" stroke-width="0.12">Calcitriol (D3)</text>
<polyline points="65.0,979.2 65.0,980.4 119.6,980.4 119.6,979.2" fill="none" stroke="#666" stroke-width="0.8"/>
<text x="91.5" y="987.0" font-size="4.6" font-weight="bold" text-anchor="middle" letter-spacing="0.28" fill="#111" font-family="Liberation Sans" stroke="#111" stroke-width="0.12">Extraction</text>
<text x="39.3" y="955.7" font-size="10.8" font-weight="normal" text-anchor="middle" letter-spacing="0.6" fill="#111" font-family="Liberation Sans">ix</text>
<line x1="70.9" y1="904.7" x2="130.4" y2="904.7" stroke="#9d9d9d" stroke-width="0.9" />
<polyline points="102.4,904.7 102.4,874.9 150.8,874.9 150.8,879.4" fill="none" stroke="#9d9d9d" stroke-width="0.9"/>
<polyline points="153.3,879.4 153.3,874.9 172.6,874.9 172.6,922.0" fill="none" stroke="#9d9d9d" stroke-width="0.9"/>
<text x="127.8" y="874.8" font-size="6.2" font-weight="bold" text-anchor="middle" letter-spacing="0.8" fill="#222" font-family="Liberation Sans" stroke="#222" stroke-width="0.12">*</text>
<text x="161.8" y="874.8" font-size="6.2" font-weight="bold" text-anchor="middle" letter-spacing="0.8" fill="#222" font-family="Liberation Sans" stroke="#222" stroke-width="0.12">*</text>
<line x1="217.4" y1="875.0" x2="217.4" y2="941.1" stroke="#333" stroke-width="1.1" />
<line x1="215.0" y1="940.8" x2="217.4" y2="940.8" stroke="#222" stroke-width="0.9" />
<text x="214.4" y="943.0" font-size="4.6" font-weight="bold" text-anchor="end" letter-spacing="0.4" fill="#111" font-family="Liberation Sans" stroke="#111" stroke-width="0.12">0.0</text>
<line x1="215.0" y1="927.6" x2="217.4" y2="927.6" stroke="#222" stroke-width="0.9" />
<text x="214.4" y="929.8" font-size="4.6" font-weight="bold" text-anchor="end" letter-spacing="0.4" fill="#111" font-family="Liberation Sans" stroke="#111" stroke-width="0.12">0.5</text>
<line x1="215.0" y1="914.5" x2="217.4" y2="914.5" stroke="#222" stroke-width="0.9" />
<text x="214.4" y="916.7" font-size="4.6" font-weight="bold" text-anchor="end" letter-spacing="0.4" fill="#111" font-family="Liberation Sans" stroke="#111" stroke-width="0.12">1.0</text>
<line x1="215.0" y1="901.3" x2="217.4" y2="901.3" stroke="#222" stroke-width="0.9" />
<text x="214.4" y="903.5" font-size="4.6" font-weight="bold" text-anchor="end" letter-spacing="0.4" fill="#111" font-family="Liberation Sans" stroke="#111" stroke-width="0.12">1.5</text>
<line x1="215.0" y1="888.2" x2="217.4" y2="888.2" stroke="#222" stroke-width="0.9" />
<text x="214.4" y="890.4" font-size="4.6" font-weight="bold" text-anchor="end" letter-spacing="0.4" fill="#111" font-family="Liberation Sans" stroke="#111" stroke-width="0.12">2.0</text>
<line x1="215.0" y1="875.0" x2="217.4" y2="875.0" stroke="#222" stroke-width="0.9" />
<text x="214.4" y="877.2" font-size="4.6" font-weight="bold" text-anchor="end" letter-spacing="0.4" fill="#111" font-family="Liberation Sans" stroke="#111" stroke-width="0.12">2.5</text>
<text x="204.2" y="908.2" font-size="4.9" font-weight="bold" text-anchor="middle" letter-spacing="0.5" fill="#111" font-family="Liberation Sans" transform="rotate(-90 204.2 908.2)" stroke="#111" stroke-width="0.12">IL-12&#160;&#160;(pg/ml)</text>
<rect x="227.9" y="939.8" width="14.5" height="1.0" fill="#050505" stroke="none" stroke-width="1.0"/>
<rect x="248.2" y="939.9" width="14.5" height="0.9" fill="#9b9b9b" stroke="none" stroke-width="1.0"/>
<rect x="268.5" y="939.9" width="14.5" height="0.9" fill="#8e8e8e" stroke="none" stroke-width="1.0"/>
<rect x="288.8" y="937.5" width="14.5" height="3.3" fill="#dcdcdc" stroke="none" stroke-width="1.0"/>
<line x1="296.1" y1="937.5" x2="296.1" y2="934.2" stroke="#3a3a3a" stroke-width="1.2" />
<line x1="293.1" y1="934.2" x2="299.1" y2="934.2" stroke="#3a3a3a" stroke-width="1.2" />
<rect x="309.1" y="890.1" width="14.5" height="50.7" fill="#737373" stroke="none" stroke-width="1.0"/>
<line x1="316.4" y1="890.1" x2="316.4" y2="881.6" stroke="#3a3a3a" stroke-width="1.2" />
<line x1="313.4" y1="881.6" x2="319.4" y2="881.6" stroke="#3a3a3a" stroke-width="1.2" />
<rect x="329.4" y="937.5" width="14.5" height="3.3" fill="#a1a1a5" stroke="none" stroke-width="1.0"/>
<line x1="336.6" y1="937.5" x2="336.6" y2="934.2" stroke="#3a3a3a" stroke-width="1.2" />
<line x1="333.6" y1="934.2" x2="339.6" y2="934.2" stroke="#3a3a3a" stroke-width="1.2" />
<line x1="224.6" y1="947.4" x2="346.9" y2="947.4" stroke="#3a3a3a" stroke-width="1.1" />
<line x1="235.2" y1="947.4" x2="235.2" y2="949.8" stroke="#222" stroke-width="0.9" />
<text x="237.2" y="953.8" font-size="4.6" font-weight="bold" text-anchor="end" letter-spacing="0.42" fill="#111" font-family="Liberation Sans" transform="rotate(-45 237.2 953.8)" stroke="#111" stroke-width="0.12">Non-treatment</text>
<line x1="255.5" y1="947.4" x2="255.5" y2="949.8" stroke="#222" stroke-width="0.9" />
<text x="257.5" y="953.8" font-size="4.6" font-weight="bold" text-anchor="end" letter-spacing="0.42" fill="#111" font-family="Liberation Sans" transform="rotate(-45 257.5 953.8)" stroke="#111" stroke-width="0.12">200 µg/ml</text>
<line x1="275.8" y1="947.4" x2="275.8" y2="949.8" stroke="#222" stroke-width="0.9" />
<text x="277.8" y="953.8" font-size="4.6" font-weight="bold" text-anchor="end" letter-spacing="0.42" fill="#111" font-family="Liberation Sans" transform="rotate(-45 277.8 953.8)" stroke="#111" stroke-width="0.12">400 µg/ml</text>
<line x1="296.1" y1="947.4" x2="296.1" y2="949.8" stroke="#222" stroke-width="0.9" />
<text x="298.1" y="953.8" font-size="4.6" font-weight="bold" text-anchor="end" letter-spacing="0.42" fill="#111" font-family="Liberation Sans" transform="rotate(-45 298.1 953.8)" stroke="#111" stroke-width="0.12">800 µg/ml</text>
<line x1="316.4" y1="947.4" x2="316.4" y2="949.8" stroke="#222" stroke-width="0.9" />
<text x="318.4" y="953.8" font-size="4.6" font-weight="bold" text-anchor="end" letter-spacing="0.42" fill="#111" font-family="Liberation Sans" transform="rotate(-45 318.4 953.8)" stroke="#111" stroke-width="0.12">Betamethasone</text>
<line x1="336.6" y1="947.4" x2="336.6" y2="949.8" stroke="#222" stroke-width="0.9" />
<text x="338.6" y="953.8" font-size="4.6" font-weight="bold" text-anchor="end" letter-spacing="0.42" fill="#111" font-family="Liberation Sans" transform="rotate(-45 338.6 953.8)" stroke="#111" stroke-width="0.12">Calcitriol (D3)</text>
<polyline points="229.5,979.2 229.5,980.4 284.1,980.4 284.1,979.2" fill="none" stroke="#666" stroke-width="0.8"/>
<text x="256.0" y="987.0" font-size="4.6" font-weight="bold" text-anchor="middle" letter-spacing="0.28" fill="#111" font-family="Liberation Sans" stroke="#111" stroke-width="0.12">Extraction</text>
<text x="198.4" y="955.7" font-size="10.8" font-weight="normal" text-anchor="middle" letter-spacing="0.6" fill="#111" font-family="Liberation Sans">x</text>
<line x1="229.1" y1="928.5" x2="297.1" y2="928.5" stroke="#c4c4c4" stroke-width="1.2" />
<polyline points="264.4,928.5 264.4,875.4 315.2,875.4 315.2,878.5" fill="none" stroke="#9d9d9d" stroke-width="0.9"/>
<polyline points="318.2,878.5 318.2,875.4 337.1,875.4 337.1,932.0" fill="none" stroke="#9d9d9d" stroke-width="0.9"/>
<text x="291.4" y="876.0" font-size="6.2" font-weight="bold" text-anchor="middle" letter-spacing="0.8" fill="#222" font-family="Liberation Sans" stroke="#222" stroke-width="0.12">****</text>
<text x="327.4" y="876.0" font-size="6.2" font-weight="bold" text-anchor="middle" letter-spacing="0.8" fill="#222" font-family="Liberation Sans" stroke="#222" stroke-width="0.12">****</text>
<line x1="382.1" y1="875.0" x2="382.1" y2="941.1" stroke="#333" stroke-width="1.1" />
<line x1="379.7" y1="940.8" x2="382.1" y2="940.8" stroke="#222" stroke-width="0.9" />
<text x="379.1" y="943.0" font-size="4.6" font-weight="bold" text-anchor="end" letter-spacing="0.4" fill="#111" font-family="Liberation Sans" stroke="#111" stroke-width="0.12">0</text>
<line x1="379.7" y1="924.3" x2="382.1" y2="924.3" stroke="#222" stroke-width="0.9" />
<text x="379.1" y="926.5" font-size="4.6" font-weight="bold" text-anchor="end" letter-spacing="0.4" fill="#111" font-family="Liberation Sans" stroke="#111" stroke-width="0.12">10</text>
<line x1="379.7" y1="907.9" x2="382.1" y2="907.9" stroke="#222" stroke-width="0.9" />
<text x="379.1" y="910.1" font-size="4.6" font-weight="bold" text-anchor="end" letter-spacing="0.4" fill="#111" font-family="Liberation Sans" stroke="#111" stroke-width="0.12">20</text>
<line x1="379.7" y1="891.5" x2="382.1" y2="891.5" stroke="#222" stroke-width="0.9" />
<text x="379.1" y="893.7" font-size="4.6" font-weight="bold" text-anchor="end" letter-spacing="0.4" fill="#111" font-family="Liberation Sans" stroke="#111" stroke-width="0.12">30</text>
<line x1="379.7" y1="875.0" x2="382.1" y2="875.0" stroke="#222" stroke-width="0.9" />
<text x="379.1" y="877.2" font-size="4.6" font-weight="bold" text-anchor="end" letter-spacing="0.4" fill="#111" font-family="Liberation Sans" stroke="#111" stroke-width="0.12">40</text>
<text x="369.9" y="908.2" font-size="4.9" font-weight="bold" text-anchor="middle" letter-spacing="0.5" fill="#111" font-family="Liberation Sans" transform="rotate(-90 369.9 908.2)" stroke="#111" stroke-width="0.12">IL-17&#160;&#160;(pg/ml)</text>
<rect x="392.1" y="939.9" width="14.5" height="0.9" fill="#050505" stroke="none" stroke-width="1.0"/>
<rect x="412.4" y="939.9" width="14.5" height="0.9" fill="#9b9b9b" stroke="none" stroke-width="1.0"/>
<rect x="432.7" y="939.6" width="14.5" height="1.2" fill="#8e8e8e" stroke="none" stroke-width="1.0"/>
<rect x="453.0" y="939.9" width="14.5" height="0.9" fill="#dcdcdc" stroke="none" stroke-width="1.0"/>
<rect x="473.3" y="900.0" width="14.5" height="40.8" fill="#737373" stroke="none" stroke-width="1.0"/>
<line x1="480.6" y1="900.0" x2="480.6" y2="892.4" stroke="#3a3a3a" stroke-width="1.2" />
<line x1="477.6" y1="892.4" x2="483.6" y2="892.4" stroke="#3a3a3a" stroke-width="1.2" />
<rect x="493.6" y="939.9" width="14.5" height="0.9" fill="#a1a1a5" stroke="none" stroke-width="1.0"/>
<line x1="389.3" y1="947.4" x2="511.1" y2="947.4" stroke="#3a3a3a" stroke-width="1.1" />
<line x1="399.4" y1="947.4" x2="399.4" y2="949.8" stroke="#222" stroke-width="0.9" />
<text x="401.4" y="953.8" font-size="4.6" font-weight="bold" text-anchor="end" letter-spacing="0.42" fill="#111" font-family="Liberation Sans" transform="rotate(-45 401.4 953.8)" stroke="#111" stroke-width="0.12">Non-treatment</text>
<line x1="419.7" y1="947.4" x2="419.7" y2="949.8" stroke="#222" stroke-width="0.9" />
<text x="421.7" y="953.8" font-size="4.6" font-weight="bold" text-anchor="end" letter-spacing="0.42" fill="#111" font-family="Liberation Sans" transform="rotate(-45 421.7 953.8)" stroke="#111" stroke-width="0.12">200 µg/ml</text>
<line x1="440.0" y1="947.4" x2="440.0" y2="949.8" stroke="#222" stroke-width="0.9" />
<text x="442.0" y="953.8" font-size="4.6" font-weight="bold" text-anchor="end" letter-spacing="0.42" fill="#111" font-family="Liberation Sans" transform="rotate(-45 442.0 953.8)" stroke="#111" stroke-width="0.12">400 µg/ml</text>
<line x1="460.2" y1="947.4" x2="460.2" y2="949.8" stroke="#222" stroke-width="0.9" />
<text x="462.2" y="953.8" font-size="4.6" font-weight="bold" text-anchor="end" letter-spacing="0.42" fill="#111" font-family="Liberation Sans" transform="rotate(-45 462.2 953.8)" stroke="#111" stroke-width="0.12">800 µg/ml</text>
<line x1="480.6" y1="947.4" x2="480.6" y2="949.8" stroke="#222" stroke-width="0.9" />
<text x="482.6" y="953.8" font-size="4.6" font-weight="bold" text-anchor="end" letter-spacing="0.42" fill="#111" font-family="Liberation Sans" transform="rotate(-45 482.6 953.8)" stroke="#111" stroke-width="0.12">Betamethasone</text>
<line x1="500.9" y1="947.4" x2="500.9" y2="949.8" stroke="#222" stroke-width="0.9" />
<text x="502.9" y="953.8" font-size="4.6" font-weight="bold" text-anchor="end" letter-spacing="0.42" fill="#111" font-family="Liberation Sans" transform="rotate(-45 502.9 953.8)" stroke="#111" stroke-width="0.12">Calcitriol (D3)</text>
<polyline points="393.7,979.2 393.7,980.4 448.2,980.4 448.2,979.2" fill="none" stroke="#666" stroke-width="0.8"/>
<text x="420.2" y="987.0" font-size="4.6" font-weight="bold" text-anchor="middle" letter-spacing="0.28" fill="#111" font-family="Liberation Sans" stroke="#111" stroke-width="0.12">Extraction</text>
<text x="365.2" y="955.7" font-size="10.8" font-weight="normal" text-anchor="middle" letter-spacing="0.6" fill="#111" font-family="Liberation Sans">xi</text>
<line x1="393.9" y1="928.5" x2="462.1" y2="928.5" stroke="#c4c4c4" stroke-width="1.2" />
<polyline points="429.4,928.5 429.4,886.0 479.0,886.0 479.0,889.0" fill="none" stroke="#9d9d9d" stroke-width="0.9"/>
<polyline points="481.5,889.0 481.5,886.0 501.8,886.0 501.8,928.0" fill="none" stroke="#9d9d9d" stroke-width="0.9"/>
<text x="453.4" y="886.6" font-size="6.2" font-weight="bold" text-anchor="middle" letter-spacing="0.8" fill="#222" font-family="Liberation Sans" stroke="#222" stroke-width="0.12">****</text>
<text x="491.4" y="886.6" font-size="6.2" font-weight="bold" text-anchor="middle" letter-spacing="0.8" fill="#222" font-family="Liberation Sans" stroke="#222" stroke-width="0.12">****</text>
<line x1="546.6" y1="875.0" x2="546.6" y2="941.1" stroke="#333" stroke-width="1.1" />
<line x1="544.2" y1="940.8" x2="546.6" y2="940.8" stroke="#222" stroke-width="0.9" />
<text x="543.6" y="943.0" font-size="4.6" font-weight="bold" text-anchor="end" letter-spacing="0.4" fill="#111" font-family="Liberation Sans" stroke="#111" stroke-width="0.12">0</text>
<line x1="544.2" y1="924.3" x2="546.6" y2="924.3" stroke="#222" stroke-width="0.9" />
<text x="543.6" y="926.5" font-size="4.6" font-weight="bold" text-anchor="end" letter-spacing="0.4" fill="#111" font-family="Liberation Sans" stroke="#111" stroke-width="0.12">50</text>
<line x1="544.2" y1="907.9" x2="546.6" y2="907.9" stroke="#222" stroke-width="0.9" />
<text x="543.6" y="910.1" font-size="4.6" font-weight="bold" text-anchor="end" letter-spacing="0.4" fill="#111" font-family="Liberation Sans" stroke="#111" stroke-width="0.12">100</text>
<line x1="544.2" y1="891.5" x2="546.6" y2="891.5" stroke="#222" stroke-width="0.9" />
<text x="543.6" y="893.7" font-size="4.6" font-weight="bold" text-anchor="end" letter-spacing="0.4" fill="#111" font-family="Liberation Sans" stroke="#111" stroke-width="0.12">150</text>
<line x1="544.2" y1="875.0" x2="546.6" y2="875.0" stroke="#222" stroke-width="0.9" />
<text x="543.6" y="877.2" font-size="4.6" font-weight="bold" text-anchor="end" letter-spacing="0.4" fill="#111" font-family="Liberation Sans" stroke="#111" stroke-width="0.12">200</text>
<text x="531.6" y="908.2" font-size="4.9" font-weight="bold" text-anchor="middle" letter-spacing="0.5" fill="#111" font-family="Liberation Sans" transform="rotate(-90 531.6 908.2)" stroke="#111" stroke-width="0.12">IL-21&#160;&#160;(pg/ml)</text>
<rect x="556.7" y="935.9" width="14.5" height="4.9" fill="#050505" stroke="none" stroke-width="1.0"/>
<line x1="564.0" y1="935.9" x2="564.0" y2="930.3" stroke="#111" stroke-width="1.2" />
<line x1="561.0" y1="930.3" x2="567.0" y2="930.3" stroke="#111" stroke-width="1.2" />
<rect x="577.0" y="939.9" width="14.5" height="0.9" fill="#9b9b9b" stroke="none" stroke-width="1.0"/>
<rect x="597.3" y="939.9" width="14.5" height="0.9" fill="#8e8e8e" stroke="none" stroke-width="1.0"/>
<rect x="617.6" y="939.9" width="14.5" height="0.9" fill="#dcdcdc" stroke="none" stroke-width="1.0"/>
<rect x="637.9" y="905.9" width="14.5" height="34.9" fill="#737373" stroke="none" stroke-width="1.0"/>
<line x1="645.2" y1="905.9" x2="645.2" y2="891.8" stroke="#3a3a3a" stroke-width="1.2" />
<line x1="642.2" y1="891.8" x2="648.2" y2="891.8" stroke="#3a3a3a" stroke-width="1.2" />
<rect x="658.2" y="939.9" width="14.5" height="0.9" fill="#3a3a3a" stroke="none" stroke-width="1.0"/>
<line x1="553.8" y1="947.4" x2="675.7" y2="947.4" stroke="#3a3a3a" stroke-width="1.1" />
<line x1="564.0" y1="947.4" x2="564.0" y2="949.8" stroke="#222" stroke-width="0.9" />
<text x="566.0" y="953.8" font-size="4.6" font-weight="bold" text-anchor="end" letter-spacing="0.42" fill="#111" font-family="Liberation Sans" transform="rotate(-45 566.0 953.8)" stroke="#111" stroke-width="0.12">Non-treatment</text>
<line x1="584.2" y1="947.4" x2="584.2" y2="949.8" stroke="#222" stroke-width="0.9" />
<text x="586.2" y="953.8" font-size="4.6" font-weight="bold" text-anchor="end" letter-spacing="0.42" fill="#111" font-family="Liberation Sans" transform="rotate(-45 586.2 953.8)" stroke="#111" stroke-width="0.12">200 µg/ml</text>
<line x1="604.6" y1="947.4" x2="604.6" y2="949.8" stroke="#222" stroke-width="0.9" />
<text x="606.6" y="953.8" font-size="4.6" font-weight="bold" text-anchor="end" letter-spacing="0.42" fill="#111" font-family="Liberation Sans" transform="rotate(-45 606.6 953.8)" stroke="#111" stroke-width="0.12">400 µg/ml</text>
<line x1="624.9" y1="947.4" x2="624.9" y2="949.8" stroke="#222" stroke-width="0.9" />
<text x="626.9" y="953.8" font-size="4.6" font-weight="bold" text-anchor="end" letter-spacing="0.42" fill="#111" font-family="Liberation Sans" transform="rotate(-45 626.9 953.8)" stroke="#111" stroke-width="0.12">800 µg/ml</text>
<line x1="645.2" y1="947.4" x2="645.2" y2="949.8" stroke="#222" stroke-width="0.9" />
<text x="647.2" y="953.8" font-size="4.6" font-weight="bold" text-anchor="end" letter-spacing="0.42" fill="#111" font-family="Liberation Sans" transform="rotate(-45 647.2 953.8)" stroke="#111" stroke-width="0.12">Betamethasone</text>
<line x1="665.5" y1="947.4" x2="665.5" y2="949.8" stroke="#222" stroke-width="0.9" />
<text x="667.5" y="953.8" font-size="4.6" font-weight="bold" text-anchor="end" letter-spacing="0.42" fill="#111" font-family="Liberation Sans" transform="rotate(-45 667.5 953.8)" stroke="#111" stroke-width="0.12">Calcitriol (D3)</text>
<polyline points="558.2,979.2 558.2,980.4 612.9,980.4 612.9,979.2" fill="none" stroke="#666" stroke-width="0.8"/>
<text x="584.8" y="987.0" font-size="4.6" font-weight="bold" text-anchor="middle" letter-spacing="0.28" fill="#111" font-family="Liberation Sans" stroke="#111" stroke-width="0.12">Extraction</text>
<text x="525.4" y="955.7" font-size="10.8" font-weight="normal" text-anchor="middle" letter-spacing="0.6" fill="#111" font-family="Liberation Sans">xii</text>
<line x1="578.3" y1="928.5" x2="627.9" y2="928.5" stroke="#9d9d9d" stroke-width="0.9" />
<polyline points="604.8,928.5 604.8,875.4 644.0,875.4 644.0,878.5" fill="none" stroke="#9d9d9d" stroke-width="0.9"/>
<polyline points="647.8,878.5 647.8,875.4 666.4,875.4 666.4,928.0" fill="none" stroke="#9d9d9d" stroke-width="0.9"/>
<text x="625.8" y="875.6" font-size="6.2" font-weight="bold" text-anchor="middle" letter-spacing="0.8" fill="#222" font-family="Liberation Sans" stroke="#222" stroke-width="0.12">*</text>
<text x="656.4" y="875.6" font-size="6.2" font-weight="bold" text-anchor="middle" letter-spacing="0.8" fill="#222" font-family="Liberation Sans" stroke="#222" stroke-width="0.12">*</text>
<line x1="313.3" y1="1030.4" x2="313.3" y2="1096.3" stroke="#333" stroke-width="1.1" />
<line x1="310.9" y1="1096.0" x2="313.3" y2="1096.0" stroke="#222" stroke-width="0.9" />
<text x="310.3" y="1098.2" font-size="4.6" font-weight="bold" text-anchor="end" letter-spacing="0.4" fill="#111" font-family="Liberation Sans" stroke="#111" stroke-width="0.12">0</text>
<line x1="310.9" y1="1079.6" x2="313.3" y2="1079.6" stroke="#222" stroke-width="0.9" />
<text x="310.3" y="1081.8" font-size="4.6" font-weight="bold" text-anchor="end" letter-spacing="0.4" fill="#111" font-family="Liberation Sans" stroke="#111" stroke-width="0.12">10</text>
<line x1="310.9" y1="1063.2" x2="313.3" y2="1063.2" stroke="#222" stroke-width="0.9" />
<text x="310.3" y="1065.4" font-size="4.6" font-weight="bold" text-anchor="end" letter-spacing="0.4" fill="#111" font-family="Liberation Sans" stroke="#111" stroke-width="0.12">20</text>
<line x1="310.9" y1="1046.8" x2="313.3" y2="1046.8" stroke="#222" stroke-width="0.9" />
<text x="310.3" y="1049.0" font-size="4.6" font-weight="bold" text-anchor="end" letter-spacing="0.4" fill="#111" font-family="Liberation Sans" stroke="#111" stroke-width="0.12">30</text>
<line x1="310.9" y1="1030.4" x2="313.3" y2="1030.4" stroke="#222" stroke-width="0.9" />
<text x="310.3" y="1032.6" font-size="4.6" font-weight="bold" text-anchor="end" letter-spacing="0.4" fill="#111" font-family="Liberation Sans" stroke="#111" stroke-width="0.12">40</text>
<text x="301.4" y="1063.5" font-size="4.9" font-weight="bold" text-anchor="middle" letter-spacing="0.5" fill="#111" font-family="Liberation Sans" transform="rotate(-90 301.4 1063.5)" stroke="#111" stroke-width="0.12">IL-22&#160;&#160;(pg/ml)</text>
<rect x="324.0" y="1078.9" width="14.5" height="17.1" fill="#050505" stroke="none" stroke-width="1.0"/>
<rect x="344.3" y="1078.9" width="14.5" height="17.1" fill="#9b9b9b" stroke="none" stroke-width="1.0"/>
<line x1="351.6" y1="1078.9" x2="351.6" y2="1078.6" stroke="#3a3a3a" stroke-width="1.2" />
<line x1="348.6" y1="1078.6" x2="354.6" y2="1078.6" stroke="#3a3a3a" stroke-width="1.2" />
<rect x="364.6" y="1093.0" width="14.5" height="3.0" fill="#8e8e8e" stroke="none" stroke-width="1.0"/>
<line x1="371.9" y1="1093.0" x2="371.9" y2="1090.4" stroke="#3a3a3a" stroke-width="1.2" />
<line x1="368.9" y1="1090.4" x2="374.9" y2="1090.4" stroke="#3a3a3a" stroke-width="1.2" />
<rect x="384.9" y="1077.3" width="14.5" height="18.7" fill="#dcdcdc" stroke="none" stroke-width="1.0"/>
<line x1="392.1" y1="1077.3" x2="392.1" y2="1075.0" stroke="#3a3a3a" stroke-width="1.2" />
<line x1="389.1" y1="1075.0" x2="395.1" y2="1075.0" stroke="#3a3a3a" stroke-width="1.2" />
<rect x="405.2" y="1044.2" width="14.5" height="51.8" fill="#737373" stroke="none" stroke-width="1.0"/>
<line x1="412.4" y1="1044.2" x2="412.4" y2="1041.6" stroke="#3a3a3a" stroke-width="1.2" />
<line x1="409.4" y1="1041.6" x2="415.4" y2="1041.6" stroke="#3a3a3a" stroke-width="1.2" />
<rect x="425.5" y="1083.5" width="14.5" height="12.5" fill="#a1a1a5" stroke="none" stroke-width="1.0"/>
<line x1="432.8" y1="1083.5" x2="432.8" y2="1081.6" stroke="#3a3a3a" stroke-width="1.2" />
<line x1="429.8" y1="1081.6" x2="435.8" y2="1081.6" stroke="#3a3a3a" stroke-width="1.2" />
<line x1="320.5" y1="1102.8" x2="443.0" y2="1102.8" stroke="#3a3a3a" stroke-width="1.1" />
<line x1="331.2" y1="1102.8" x2="331.2" y2="1105.2" stroke="#222" stroke-width="0.9" />
<text x="333.2" y="1109.2" font-size="4.6" font-weight="bold" text-anchor="end" letter-spacing="0.42" fill="#111" font-family="Liberation Sans" transform="rotate(-45 333.2 1109.2)" stroke="#111" stroke-width="0.12">Non-treatment</text>
<line x1="351.6" y1="1102.8" x2="351.6" y2="1105.2" stroke="#222" stroke-width="0.9" />
<text x="353.6" y="1109.2" font-size="4.6" font-weight="bold" text-anchor="end" letter-spacing="0.42" fill="#111" font-family="Liberation Sans" transform="rotate(-45 353.6 1109.2)" stroke="#111" stroke-width="0.12">200 µg/ml</text>
<line x1="371.9" y1="1102.8" x2="371.9" y2="1105.2" stroke="#222" stroke-width="0.9" />
<text x="373.9" y="1109.2" font-size="4.6" font-weight="bold" text-anchor="end" letter-spacing="0.42" fill="#111" font-family="Liberation Sans" transform="rotate(-45 373.9 1109.2)" stroke="#111" stroke-width="0.12">400 µg/ml</text>
<line x1="392.1" y1="1102.8" x2="392.1" y2="1105.2" stroke="#222" stroke-width="0.9" />
<text x="394.1" y="1109.2" font-size="4.6" font-weight="bold" text-anchor="end" letter-spacing="0.42" fill="#111" font-family="Liberation Sans" transform="rotate(-45 394.1 1109.2)" stroke="#111" stroke-width="0.12">800 µg/ml</text>
<line x1="412.4" y1="1102.8" x2="412.4" y2="1105.2" stroke="#222" stroke-width="0.9" />
<text x="414.4" y="1109.2" font-size="4.6" font-weight="bold" text-anchor="end" letter-spacing="0.42" fill="#111" font-family="Liberation Sans" transform="rotate(-45 414.4 1109.2)" stroke="#111" stroke-width="0.12">Betamethasone</text>
<line x1="432.8" y1="1102.8" x2="432.8" y2="1105.2" stroke="#222" stroke-width="0.9" />
<text x="434.8" y="1109.2" font-size="4.6" font-weight="bold" text-anchor="end" letter-spacing="0.42" fill="#111" font-family="Liberation Sans" transform="rotate(-45 434.8 1109.2)" stroke="#111" stroke-width="0.12">Calcitriol (D3)</text>
<polyline points="325.6,1134.6 325.6,1135.8 380.1,1135.8 380.1,1134.6" fill="none" stroke="#666" stroke-width="0.8"/>
<text x="352.1" y="1142.4" font-size="4.6" font-weight="bold" text-anchor="middle" letter-spacing="0.28" fill="#111" font-family="Liberation Sans" stroke="#111" stroke-width="0.12">Extraction</text>
<text x="297.1" y="1118.4" font-size="10.8" font-weight="normal" text-anchor="middle" letter-spacing="0.6" fill="#111" font-family="Liberation Sans">xiii</text>
<line x1="344.9" y1="1056.0" x2="399.0" y2="1056.0" stroke="#9d9d9d" stroke-width="0.9" />
<polyline points="351.8,1074.6 351.8,1070.4 369.0,1070.4 369.0,1075.0" fill="none" stroke="#9d9d9d" stroke-width="0.9"/>
<polyline points="374.0,1078.0 374.0,1069.0 391.5,1069.0 391.5,1073.0" fill="none" stroke="#9d9d9d" stroke-width="0.9"/>
<text x="360.6" y="1069.9" font-size="6.2" font-weight="bold" text-anchor="middle" letter-spacing="0.8" fill="#222" font-family="Liberation Sans" stroke="#222" stroke-width="0.12">**</text>
<text x="384.1" y="1068.4" font-size="6.2" font-weight="bold" text-anchor="middle" letter-spacing="0.8" fill="#222" font-family="Liberation Sans" stroke="#222" stroke-width="0.12">**</text>
<text x="372.2" y="1087.4" font-size="6.2" font-weight="bold" text-anchor="middle" letter-spacing="0.8" fill="#222" font-family="Liberation Sans" stroke="#222" stroke-width="0.12">**</text>
<polyline points="371.2,1056.0 371.2,1016.4 434.2,1016.4 434.2,1081.5" fill="none" stroke="#9d9d9d" stroke-width="0.9"/>
<polyline points="373.5,1069.0 373.5,1025.5 432.3,1025.5 432.3,1081.5" fill="none" stroke="#9d9d9d" stroke-width="0.9"/>
<line x1="412.3" y1="1025.5" x2="412.3" y2="1031.0" stroke="#9d9d9d" stroke-width="0.9" />
<text x="401.6" y="1015.2" font-size="6.2" font-weight="bold" text-anchor="middle" letter-spacing="0.8" fill="#222" font-family="Liberation Sans" stroke="#222" stroke-width="0.12">*</text>
<text x="394.4" y="1025.5" font-size="6.2" font-weight="bold" text-anchor="middle" letter-spacing="0.8" fill="#222" font-family="Liberation Sans" stroke="#222" stroke-width="0.12">****</text>
<text x="423.4" y="1025.5" font-size="6.2" font-weight="bold" text-anchor="middle" letter-spacing="0.8" fill="#222" font-family="Liberation Sans" stroke="#222" stroke-width="0.12">****</text>
<text x="412.8" y="1039.4" font-size="6.2" font-weight="bold" text-anchor="middle" letter-spacing="0.8" fill="#222" font-family="Liberation Sans" stroke="#222" stroke-width="0.12">****</text>
</svg>
</body></html>
